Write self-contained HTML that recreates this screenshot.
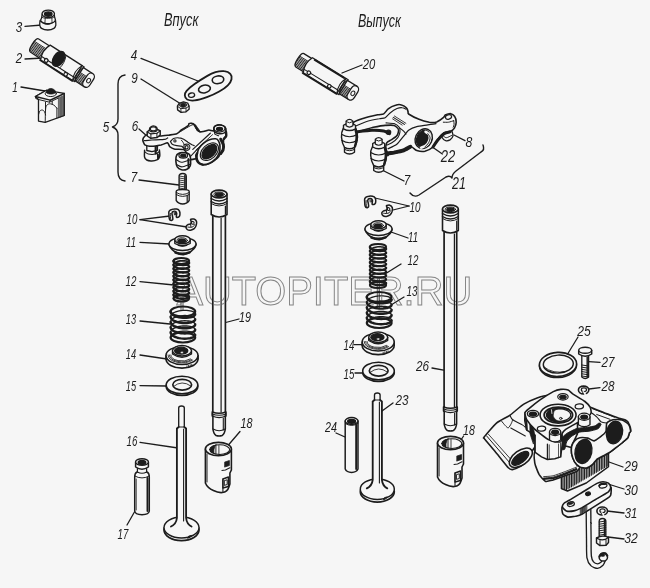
<!DOCTYPE html>
<html><head><meta charset="utf-8"><title>diagram</title>
<style>
html,body{margin:0;padding:0;background:#f6f6f6;}
svg{display:block;will-change:transform;}
text{font-family:"Liberation Sans",sans-serif;font-style:italic;fill:#1c1c1c;stroke:none;}
</style></head><body>
<svg width="650" height="588" viewBox="0 0 650 588">
<defs><filter id="soft" x="0" y="0" width="650" height="588" filterUnits="userSpaceOnUse"><feGaussianBlur stdDeviation="0.45"/></filter></defs>
<rect width="650" height="588" fill="#f6f6f6"/>
<g filter="url(#soft)" fill="none" stroke="#1c1c1c" stroke-width="1.3" stroke-linecap="round" stroke-linejoin="round">
<text x="164" y="25.8" font-size="17.5" textLength="34.5" lengthAdjust="spacingAndGlyphs">Впуск</text>
<text x="358" y="27" font-size="17.5" textLength="43" lengthAdjust="spacingAndGlyphs">Выпуск</text>
<text x="15" y="92.2" font-size="14.5" text-anchor="middle" textLength="5.5" lengthAdjust="spacingAndGlyphs">1</text>
<text x="19" y="63.2" font-size="14.5" text-anchor="middle" textLength="6.5" lengthAdjust="spacingAndGlyphs">2</text>
<text x="19" y="32.2" font-size="14.5" text-anchor="middle" textLength="6.5" lengthAdjust="spacingAndGlyphs">3</text>
<text x="134" y="60.2" font-size="14.5" text-anchor="middle" textLength="6.5" lengthAdjust="spacingAndGlyphs">4</text>
<text x="134.5" y="83.2" font-size="14.5" text-anchor="middle" textLength="6.5" lengthAdjust="spacingAndGlyphs">9</text>
<text x="106" y="132.2" font-size="14.5" text-anchor="middle" textLength="6.5" lengthAdjust="spacingAndGlyphs">5</text>
<text x="135" y="131.2" font-size="14.5" text-anchor="middle" textLength="6.5" lengthAdjust="spacingAndGlyphs">6</text>
<text x="134" y="182.2" font-size="14.5" text-anchor="middle" textLength="6.5" lengthAdjust="spacingAndGlyphs">7</text>
<text x="132" y="224.2" font-size="14.5" text-anchor="middle" textLength="10.8" lengthAdjust="spacingAndGlyphs">10</text>
<text x="131" y="246.8" font-size="14.5" text-anchor="middle" textLength="9.8" lengthAdjust="spacingAndGlyphs">11</text>
<text x="131" y="286.2" font-size="14.5" text-anchor="middle" textLength="10.8" lengthAdjust="spacingAndGlyphs">12</text>
<text x="131" y="324.2" font-size="14.5" text-anchor="middle" textLength="10.3" lengthAdjust="spacingAndGlyphs">13</text>
<text x="131" y="359.2" font-size="14.5" text-anchor="middle" textLength="10.3" lengthAdjust="spacingAndGlyphs">14</text>
<text x="131" y="391.2" font-size="14.5" text-anchor="middle" textLength="10.3" lengthAdjust="spacingAndGlyphs">15</text>
<text x="132" y="446.2" font-size="14.5" text-anchor="middle" textLength="10.8" lengthAdjust="spacingAndGlyphs">16</text>
<text x="123" y="539.2" font-size="14.5" text-anchor="middle" textLength="10.8" lengthAdjust="spacingAndGlyphs">17</text>
<text x="246.5" y="428.2" font-size="14.5" text-anchor="middle" textLength="12" lengthAdjust="spacingAndGlyphs">18</text>
<text x="245" y="321.7" font-size="14.5" text-anchor="middle" textLength="12" lengthAdjust="spacingAndGlyphs">19</text>
<text x="369" y="69.2" font-size="14.5" text-anchor="middle" textLength="12.5" lengthAdjust="spacingAndGlyphs">20</text>
<text x="469" y="147.2" font-size="14.5" text-anchor="middle" textLength="6.8" lengthAdjust="spacingAndGlyphs">8</text>
<text x="448" y="161.8" font-size="16" text-anchor="middle" textLength="14.5" lengthAdjust="spacingAndGlyphs">22</text>
<text x="407" y="185.2" font-size="14.5" text-anchor="middle" textLength="6.5" lengthAdjust="spacingAndGlyphs">7</text>
<text x="459" y="188.8" font-size="16" text-anchor="middle" textLength="13.8" lengthAdjust="spacingAndGlyphs">21</text>
<text x="415" y="212.2" font-size="14.5" text-anchor="middle" textLength="11" lengthAdjust="spacingAndGlyphs">10</text>
<text x="413" y="242.2" font-size="14.5" text-anchor="middle" textLength="10" lengthAdjust="spacingAndGlyphs">11</text>
<text x="413" y="265.2" font-size="14.5" text-anchor="middle" textLength="10.8" lengthAdjust="spacingAndGlyphs">12</text>
<text x="412" y="296.2" font-size="14.5" text-anchor="middle" textLength="11" lengthAdjust="spacingAndGlyphs">13</text>
<text x="349" y="350.2" font-size="14.5" text-anchor="middle" textLength="10.8" lengthAdjust="spacingAndGlyphs">14</text>
<text x="349" y="378.8" font-size="14.5" text-anchor="middle" textLength="10.8" lengthAdjust="spacingAndGlyphs">15</text>
<text x="422.6" y="371.2" font-size="14.5" text-anchor="middle" textLength="13" lengthAdjust="spacingAndGlyphs">26</text>
<text x="402" y="405.2" font-size="14.5" text-anchor="middle" textLength="13" lengthAdjust="spacingAndGlyphs">23</text>
<text x="331" y="431.8" font-size="14.5" text-anchor="middle" textLength="12" lengthAdjust="spacingAndGlyphs">24</text>
<text x="469" y="435.2" font-size="14.5" text-anchor="middle" textLength="11.8" lengthAdjust="spacingAndGlyphs">18</text>
<text x="584" y="336.4" font-size="15" text-anchor="middle" textLength="13.5" lengthAdjust="spacingAndGlyphs">25</text>
<text x="608" y="367.4" font-size="15" text-anchor="middle" textLength="13" lengthAdjust="spacingAndGlyphs">27</text>
<text x="608" y="391.4" font-size="15" text-anchor="middle" textLength="13" lengthAdjust="spacingAndGlyphs">28</text>
<text x="631" y="471.4" font-size="15" text-anchor="middle" textLength="13.5" lengthAdjust="spacingAndGlyphs">29</text>
<text x="631" y="495.0" font-size="15" text-anchor="middle" textLength="13.5" lengthAdjust="spacingAndGlyphs">30</text>
<text x="631" y="518.4" font-size="15" text-anchor="middle" textLength="12.5" lengthAdjust="spacingAndGlyphs">31</text>
<text x="631" y="543.4" font-size="15" text-anchor="middle" textLength="13.5" lengthAdjust="spacingAndGlyphs">32</text>
<line x1="21" y1="87" x2="45" y2="91" stroke-width="1.28" />
<line x1="25" y1="59" x2="43" y2="58" stroke-width="1.28" />
<line x1="25" y1="26.4" x2="42" y2="25" stroke-width="1.28" />
<line x1="141" y1="58.4" x2="198" y2="81" stroke-width="1.28" />
<line x1="141" y1="79" x2="181" y2="104" stroke-width="1.28" />
<line x1="139" y1="129" x2="148" y2="137" stroke-width="1.28" />
<line x1="139" y1="180" x2="179" y2="185" stroke-width="1.28" />
<line x1="140" y1="219.6" x2="170" y2="216" stroke-width="1.28" />
<line x1="140" y1="219.6" x2="187" y2="227" stroke-width="1.28" />
<line x1="140" y1="242.4" x2="170" y2="244" stroke-width="1.28" />
<line x1="140" y1="281.6" x2="174" y2="285" stroke-width="1.28" />
<line x1="140" y1="321" x2="170" y2="324" stroke-width="1.28" />
<line x1="140" y1="355" x2="167" y2="359" stroke-width="1.28" />
<line x1="140" y1="385.6" x2="166" y2="386" stroke-width="1.28" />
<line x1="140" y1="442.4" x2="178" y2="448" stroke-width="1.28" />
<line x1="127" y1="525" x2="135" y2="511" stroke-width="1.28" />
<line x1="240" y1="431.5" x2="225" y2="449" stroke-width="1.28" />
<line x1="239" y1="319" x2="220" y2="324" stroke-width="1.28" />
<line x1="362" y1="65" x2="342" y2="73" stroke-width="1.28" />
<line x1="465" y1="140.6" x2="454" y2="135" stroke-width="1.28" />
<line x1="442.4" y1="154" x2="433" y2="147.4" stroke-width="1.28" />
<line x1="404" y1="181" x2="382" y2="170" stroke-width="1.28" />
<line x1="409" y1="206" x2="375" y2="198" stroke-width="1.28" />
<line x1="409" y1="206" x2="389" y2="211" stroke-width="1.28" />
<line x1="408" y1="238" x2="391" y2="232" stroke-width="1.28" />
<line x1="401" y1="264" x2="385" y2="274" stroke-width="1.28" />
<line x1="404" y1="297" x2="391" y2="305" stroke-width="1.28" />
<line x1="354" y1="344.6" x2="364" y2="344.6" stroke-width="1.28" />
<line x1="355" y1="373" x2="365" y2="373" stroke-width="1.28" />
<line x1="432" y1="368" x2="445" y2="370.4" stroke-width="1.28" />
<line x1="393" y1="403" x2="382" y2="411" stroke-width="1.28" />
<line x1="336" y1="433" x2="345" y2="437" stroke-width="1.28" />
<line x1="463.6" y1="436" x2="459" y2="443" stroke-width="1.28" />
<line x1="578" y1="337" x2="567" y2="355" stroke-width="1.28" />
<line x1="600" y1="362.4" x2="589" y2="361.6" stroke-width="1.28" />
<line x1="600" y1="387.6" x2="589" y2="389" stroke-width="1.28" />
<line x1="623" y1="467" x2="609" y2="462" stroke-width="1.28" />
<line x1="624" y1="489" x2="608" y2="484" stroke-width="1.28" />
<line x1="624" y1="513" x2="607" y2="511" stroke-width="1.28" />
<line x1="624" y1="539" x2="608" y2="537" stroke-width="1.28" />
<path d="M125,75 Q118,76 118,84 L118,119 Q118,125 112.5,127 Q118,129 118,135 L118,172 Q118,180 125,181" fill="none" stroke-width="1.40" />
<path d="M483,145 Q485,150 481,152 L456,171 Q452,174 452,178 Q450,175 446,177 L419,195 Q414,198 410,193" fill="none" stroke-width="1.40" />
<rect x="212.79999999999998" y="215" width="12.6" height="197" fill="#f6f6f6" stroke="none"/>
<line x1="212.79999999999998" y1="216" x2="212.79999999999998" y2="412" stroke-width="1.71" />
<line x1="225.4" y1="216" x2="225.4" y2="412" stroke-width="1.71" />
<line x1="221.1" y1="218" x2="221.1" y2="412" stroke-width="1.22" />
<path d="M211.2,194 L211.2,214.5 Q219.1,219.5 227.0,214.5 L227.0,194 Z" fill="#f6f6f6" stroke-width="1.59" />
<ellipse cx="219.1" cy="194" rx="7.9" ry="3.9" fill="#f6f6f6" stroke-width="1.59" />
<ellipse cx="219.1" cy="194.3" rx="5.2" ry="2.3" fill="none" stroke-width="0.98" />
<ellipse cx="219.1" cy="194.6" rx="3.6" ry="1.6" fill="#1c1c1c" />
<path d="M211.2,198.5 Q219.1,203.5 227.0,198.5" fill="none" stroke-width="1.46" />
<path d="M211.2,201.5 Q219.1,206.5 227.0,201.5" fill="none" stroke-width="1.46" />
<path d="M211.2,203.5 Q219.1,208.5 227.0,203.5" fill="none" stroke-width="0.98" />
<line x1="225.4" y1="206" x2="225.4" y2="214" stroke-width="1.22" />
<path d="M212.29999999999998,412 L212.29999999999998,416 Q219.1,418.5 225.9,416 L225.9,412 Q219.1,414.5 212.29999999999998,412 Z" fill="#f6f6f6" stroke-width="1.71" />
<path d="M212.29999999999998,414 Q219.1,416.5 225.9,414" fill="none" stroke-width="1.22" />
<path d="M212.9,416.3 L212.9,429 Q213.6,434 216.1,435.5 Q219.1,436.5 222.1,435.5 Q224.6,434 225.29999999999998,429 L225.29999999999998,416.3" fill="#f6f6f6" stroke-width="1.59" />
<path d="M212.9,416.3 Q219.1,419 225.29999999999998,416.3" fill="#f6f6f6" stroke-width="1.10" />
<path d="M213.1,429 Q219.1,432.5 225.1,429" fill="none" stroke-width="1.10" />
<line x1="223.29999999999998" y1="418" x2="223.29999999999998" y2="430" stroke-width="1.10" />
<rect x="444.09999999999997" y="231" width="12.6" height="176" fill="#f6f6f6" stroke="none"/>
<line x1="444.09999999999997" y1="232" x2="444.09999999999997" y2="407" stroke-width="1.71" />
<line x1="456.7" y1="232" x2="456.7" y2="407" stroke-width="1.71" />
<line x1="454.4" y1="234" x2="454.4" y2="407" stroke-width="1.22" />
<path d="M442.5,209 L442.5,230.5 Q450.4,235.5 458.29999999999995,230.5 L458.29999999999995,209 Z" fill="#f6f6f6" stroke-width="1.59" />
<ellipse cx="450.4" cy="209" rx="7.9" ry="3.9" fill="#f6f6f6" stroke-width="1.59" />
<ellipse cx="450.4" cy="209.3" rx="5.2" ry="2.3" fill="none" stroke-width="0.98" />
<ellipse cx="450.4" cy="209.6" rx="3.6" ry="1.6" fill="#1c1c1c" />
<path d="M442.5,213.5 Q450.4,218.5 458.29999999999995,213.5" fill="none" stroke-width="1.46" />
<path d="M442.5,216.5 Q450.4,221.5 458.29999999999995,216.5" fill="none" stroke-width="1.46" />
<path d="M442.5,218.5 Q450.4,223.5 458.29999999999995,218.5" fill="none" stroke-width="0.98" />
<line x1="456.69999999999993" y1="221" x2="456.69999999999993" y2="230" stroke-width="1.22" />
<path d="M443.59999999999997,407 L443.59999999999997,411 Q450.4,413.5 457.2,411 L457.2,407 Q450.4,409.5 443.59999999999997,407 Z" fill="#f6f6f6" stroke-width="1.71" />
<path d="M443.59999999999997,409 Q450.4,411.5 457.2,409" fill="none" stroke-width="1.22" />
<path d="M444.2,411.3 L444.2,424 Q444.9,429 447.4,430.5 Q450.4,431.5 453.4,430.5 Q455.9,429 456.59999999999997,424 L456.59999999999997,411.3" fill="#f6f6f6" stroke-width="1.59" />
<path d="M444.2,411.3 Q450.4,414 456.59999999999997,411.3" fill="#f6f6f6" stroke-width="1.10" />
<path d="M444.4,424 Q450.4,427.5 456.4,424" fill="none" stroke-width="1.10" />
<line x1="454.59999999999997" y1="413" x2="454.59999999999997" y2="425" stroke-width="1.10" />
<ellipse cx="181.3" cy="261.0" rx="7.8" ry="3.0" fill="none" stroke-width="2.20" />
<path d="M189.1,262.9 L189.0,262.5 L188.7,262.1 L188.2,261.8 L187.6,261.5 L186.8,261.2 L185.9,261.0 L184.8,260.9 L183.7,260.8 L182.5,260.8 L181.3,260.8 L180.1,260.9 L178.9,261.1 L177.8,261.4 L176.7,261.8 L175.8,262.2 L175.0,262.6 L174.4,263.1 L173.9,263.6 L173.6,264.2 L173.5,264.8" fill="none" stroke-width="1.71" />
<path d="M173.5,261.0 L173.6,261.6 L173.9,262.1 L174.4,262.6 L175.0,263.1 L175.8,263.6 L176.7,264.0 L177.8,264.3 L178.9,264.6 L180.1,264.8 L181.3,264.9 L182.5,265.0 L183.7,265.0 L184.8,264.9 L185.9,264.7 L186.8,264.5 L187.6,264.3 L188.2,264.0 L188.7,263.6 L189.0,263.3 L189.1,262.9" fill="none" stroke-width="2.44" />
<path d="M189.1,266.6 L189.0,266.2 L188.7,265.9 L188.2,265.5 L187.6,265.2 L186.8,265.0 L185.9,264.8 L184.8,264.6 L183.7,264.5 L182.5,264.5 L181.3,264.6 L180.1,264.7 L178.9,264.9 L177.8,265.2 L176.7,265.5 L175.8,265.9 L175.0,266.4 L174.4,266.9 L173.9,267.4 L173.6,267.9 L173.5,268.5" fill="none" stroke-width="1.71" />
<path d="M173.5,264.8 L173.6,265.3 L173.9,265.9 L174.4,266.4 L175.0,266.9 L175.8,267.3 L176.7,267.7 L177.8,268.1 L178.9,268.4 L180.1,268.6 L181.3,268.7 L182.5,268.7 L183.7,268.7 L184.8,268.6 L185.9,268.5 L186.8,268.3 L187.6,268.0 L188.2,267.7 L188.7,267.4 L189.0,267.0 L189.1,266.6" fill="none" stroke-width="2.44" />
<path d="M189.1,270.4 L189.0,270.0 L188.7,269.6 L188.2,269.3 L187.6,269.0 L186.8,268.7 L185.9,268.5 L184.8,268.4 L183.7,268.3 L182.5,268.3 L181.3,268.3 L180.1,268.4 L178.9,268.6 L177.8,268.9 L176.7,269.3 L175.8,269.7 L175.0,270.1 L174.4,270.6 L173.9,271.1 L173.6,271.7 L173.5,272.2" fill="none" stroke-width="1.71" />
<path d="M173.5,268.5 L173.6,269.1 L173.9,269.6 L174.4,270.1 L175.0,270.6 L175.8,271.1 L176.7,271.5 L177.8,271.8 L178.9,272.1 L180.1,272.3 L181.3,272.4 L182.5,272.5 L183.7,272.5 L184.8,272.4 L185.9,272.2 L186.8,272.0 L187.6,271.8 L188.2,271.5 L188.7,271.1 L189.0,270.8 L189.1,270.4" fill="none" stroke-width="2.44" />
<path d="M189.1,274.1 L189.0,273.7 L188.7,273.4 L188.2,273.0 L187.6,272.7 L186.8,272.5 L185.9,272.3 L184.8,272.1 L183.7,272.0 L182.5,272.0 L181.3,272.1 L180.1,272.2 L178.9,272.4 L177.8,272.7 L176.7,273.0 L175.8,273.4 L175.0,273.9 L174.4,274.4 L173.9,274.9 L173.6,275.4 L173.5,276.0" fill="none" stroke-width="1.71" />
<path d="M173.5,272.2 L173.6,272.8 L173.9,273.4 L174.4,273.9 L175.0,274.4 L175.8,274.8 L176.7,275.2 L177.8,275.6 L178.9,275.9 L180.1,276.1 L181.3,276.2 L182.5,276.2 L183.7,276.2 L184.8,276.1 L185.9,276.0 L186.8,275.8 L187.6,275.5 L188.2,275.2 L188.7,274.9 L189.0,274.5 L189.1,274.1" fill="none" stroke-width="2.44" />
<path d="M189.1,277.9 L189.0,277.5 L188.7,277.1 L188.2,276.8 L187.6,276.5 L186.8,276.2 L185.9,276.0 L184.8,275.9 L183.7,275.8 L182.5,275.8 L181.3,275.8 L180.1,275.9 L178.9,276.1 L177.8,276.4 L176.7,276.8 L175.8,277.2 L175.0,277.6 L174.4,278.1 L173.9,278.6 L173.6,279.2 L173.5,279.8" fill="none" stroke-width="1.71" />
<path d="M173.5,276.0 L173.6,276.6 L173.9,277.1 L174.4,277.6 L175.0,278.1 L175.8,278.6 L176.7,279.0 L177.8,279.3 L178.9,279.6 L180.1,279.8 L181.3,279.9 L182.5,280.0 L183.7,280.0 L184.8,279.9 L185.9,279.7 L186.8,279.5 L187.6,279.3 L188.2,279.0 L188.7,278.6 L189.0,278.3 L189.1,277.9" fill="none" stroke-width="2.44" />
<path d="M189.1,281.6 L189.0,281.2 L188.7,280.9 L188.2,280.5 L187.6,280.2 L186.8,280.0 L185.9,279.8 L184.8,279.6 L183.7,279.5 L182.5,279.5 L181.3,279.6 L180.1,279.7 L178.9,279.9 L177.8,280.2 L176.7,280.5 L175.8,280.9 L175.0,281.4 L174.4,281.9 L173.9,282.4 L173.6,282.9 L173.5,283.5" fill="none" stroke-width="1.71" />
<path d="M173.5,279.8 L173.6,280.3 L173.9,280.9 L174.4,281.4 L175.0,281.9 L175.8,282.3 L176.7,282.7 L177.8,283.1 L178.9,283.4 L180.1,283.6 L181.3,283.7 L182.5,283.7 L183.7,283.7 L184.8,283.6 L185.9,283.5 L186.8,283.3 L187.6,283.0 L188.2,282.7 L188.7,282.4 L189.0,282.0 L189.1,281.6" fill="none" stroke-width="2.44" />
<path d="M189.1,285.4 L189.0,285.0 L188.7,284.6 L188.2,284.3 L187.6,284.0 L186.8,283.7 L185.9,283.5 L184.8,283.4 L183.7,283.3 L182.5,283.3 L181.3,283.3 L180.1,283.4 L178.9,283.6 L177.8,283.9 L176.7,284.3 L175.8,284.7 L175.0,285.1 L174.4,285.6 L173.9,286.1 L173.6,286.7 L173.5,287.2" fill="none" stroke-width="1.71" />
<path d="M173.5,283.5 L173.6,284.1 L173.9,284.6 L174.4,285.1 L175.0,285.6 L175.8,286.1 L176.7,286.5 L177.8,286.8 L178.9,287.1 L180.1,287.3 L181.3,287.4 L182.5,287.5 L183.7,287.5 L184.8,287.4 L185.9,287.2 L186.8,287.0 L187.6,286.8 L188.2,286.5 L188.7,286.1 L189.0,285.8 L189.1,285.4" fill="none" stroke-width="2.44" />
<path d="M189.1,289.1 L189.0,288.7 L188.7,288.4 L188.2,288.0 L187.6,287.7 L186.8,287.5 L185.9,287.3 L184.8,287.1 L183.7,287.0 L182.5,287.0 L181.3,287.1 L180.1,287.2 L178.9,287.4 L177.8,287.7 L176.7,288.0 L175.8,288.4 L175.0,288.9 L174.4,289.4 L173.9,289.9 L173.6,290.4 L173.5,291.0" fill="none" stroke-width="1.71" />
<path d="M173.5,287.2 L173.6,287.8 L173.9,288.4 L174.4,288.9 L175.0,289.4 L175.8,289.8 L176.7,290.2 L177.8,290.6 L178.9,290.9 L180.1,291.1 L181.3,291.2 L182.5,291.2 L183.7,291.2 L184.8,291.1 L185.9,291.0 L186.8,290.8 L187.6,290.5 L188.2,290.2 L188.7,289.9 L189.0,289.5 L189.1,289.1" fill="none" stroke-width="2.44" />
<path d="M189.1,292.9 L189.0,292.5 L188.7,292.1 L188.2,291.8 L187.6,291.5 L186.8,291.2 L185.9,291.0 L184.8,290.9 L183.7,290.8 L182.5,290.8 L181.3,290.8 L180.1,290.9 L178.9,291.1 L177.8,291.4 L176.7,291.8 L175.8,292.2 L175.0,292.6 L174.4,293.1 L173.9,293.6 L173.6,294.2 L173.5,294.8" fill="none" stroke-width="1.71" />
<path d="M173.5,291.0 L173.6,291.6 L173.9,292.1 L174.4,292.6 L175.0,293.1 L175.8,293.6 L176.7,294.0 L177.8,294.3 L178.9,294.6 L180.1,294.8 L181.3,294.9 L182.5,295.0 L183.7,295.0 L184.8,294.9 L185.9,294.7 L186.8,294.5 L187.6,294.3 L188.2,294.0 L188.7,293.6 L189.0,293.3 L189.1,292.9" fill="none" stroke-width="2.44" />
<path d="M189.1,296.6 L189.0,296.2 L188.7,295.9 L188.2,295.5 L187.6,295.2 L186.8,295.0 L185.9,294.8 L184.8,294.6 L183.7,294.5 L182.5,294.5 L181.3,294.6 L180.1,294.7 L178.9,294.9 L177.8,295.2 L176.7,295.5 L175.8,295.9 L175.0,296.4 L174.4,296.9 L173.9,297.4 L173.6,297.9 L173.5,298.5" fill="none" stroke-width="1.71" />
<path d="M173.5,294.8 L173.6,295.3 L173.9,295.9 L174.4,296.4 L175.0,296.9 L175.8,297.3 L176.7,297.7 L177.8,298.1 L178.9,298.4 L180.1,298.6 L181.3,298.7 L182.5,298.7 L183.7,298.7 L184.8,298.6 L185.9,298.5 L186.8,298.3 L187.6,298.0 L188.2,297.7 L188.7,297.4 L189.0,297.0 L189.1,296.6" fill="none" stroke-width="2.44" />
<ellipse cx="181.3" cy="298.5" rx="7.8" ry="3.0" fill="none" stroke-width="2.20" />
<ellipse cx="182.9" cy="311.5" rx="12.3" ry="5" fill="none" stroke-width="2.20" />
<path d="M195.2,314.1 L195.0,313.4 L194.6,312.8 L193.9,312.2 L192.9,311.7 L191.6,311.2 L190.1,310.8 L188.5,310.6 L186.7,310.4 L184.8,310.3 L182.9,310.4 L181.0,310.6 L179.1,310.9 L177.3,311.3 L175.7,311.9 L174.2,312.5 L172.9,313.2 L171.9,314.0 L171.2,314.9 L170.8,315.8 L170.6,316.7" fill="none" stroke-width="1.34" />
<path d="M170.6,311.5 L170.8,312.4 L171.2,313.3 L171.9,314.2 L172.9,315.0 L174.2,315.7 L175.7,316.3 L177.3,316.9 L179.1,317.3 L181.0,317.6 L182.9,317.8 L184.8,317.9 L186.7,317.8 L188.5,317.6 L190.1,317.4 L191.6,317.0 L192.9,316.5 L193.9,316.0 L194.6,315.4 L195.0,314.8 L195.2,314.1" fill="none" stroke-width="2.44" />
<path d="M195.2,319.3 L195.0,318.6 L194.6,318.0 L193.9,317.4 L192.9,316.9 L191.6,316.4 L190.1,316.0 L188.5,315.8 L186.7,315.6 L184.8,315.5 L182.9,315.6 L181.0,315.8 L179.1,316.1 L177.3,316.5 L175.7,317.1 L174.2,317.7 L172.9,318.4 L171.9,319.2 L171.2,320.1 L170.8,321.0 L170.6,321.9" fill="none" stroke-width="1.34" />
<path d="M170.6,316.7 L170.8,317.6 L171.2,318.5 L171.9,319.4 L172.9,320.2 L174.2,320.9 L175.7,321.5 L177.3,322.1 L179.1,322.5 L181.0,322.8 L182.9,323.0 L184.8,323.1 L186.7,323.0 L188.5,322.8 L190.1,322.6 L191.6,322.2 L192.9,321.7 L193.9,321.2 L194.6,320.6 L195.0,320.0 L195.2,319.3" fill="none" stroke-width="2.44" />
<path d="M195.2,324.5 L195.0,323.8 L194.6,323.2 L193.9,322.6 L192.9,322.1 L191.6,321.6 L190.1,321.2 L188.5,321.0 L186.7,320.8 L184.8,320.7 L182.9,320.8 L181.0,321.0 L179.1,321.3 L177.3,321.7 L175.7,322.3 L174.2,322.9 L172.9,323.6 L171.9,324.4 L171.2,325.3 L170.8,326.2 L170.6,327.1" fill="none" stroke-width="1.34" />
<path d="M170.6,321.9 L170.8,322.8 L171.2,323.7 L171.9,324.6 L172.9,325.4 L174.2,326.1 L175.7,326.7 L177.3,327.3 L179.1,327.7 L181.0,328.0 L182.9,328.2 L184.8,328.3 L186.7,328.2 L188.5,328.0 L190.1,327.8 L191.6,327.4 L192.9,326.9 L193.9,326.4 L194.6,325.8 L195.0,325.2 L195.2,324.5" fill="none" stroke-width="2.44" />
<path d="M195.2,329.7 L195.0,329.0 L194.6,328.4 L193.9,327.8 L192.9,327.3 L191.6,326.8 L190.1,326.4 L188.5,326.2 L186.7,326.0 L184.8,325.9 L182.9,326.0 L181.0,326.2 L179.1,326.5 L177.3,326.9 L175.7,327.5 L174.2,328.1 L172.9,328.8 L171.9,329.6 L171.2,330.5 L170.8,331.4 L170.6,332.3" fill="none" stroke-width="1.34" />
<path d="M170.6,327.1 L170.8,328.0 L171.2,328.9 L171.9,329.8 L172.9,330.6 L174.2,331.3 L175.7,331.9 L177.3,332.5 L179.1,332.9 L181.0,333.2 L182.9,333.4 L184.8,333.5 L186.7,333.4 L188.5,333.2 L190.1,333.0 L191.6,332.6 L192.9,332.1 L193.9,331.6 L194.6,331.0 L195.0,330.4 L195.2,329.7" fill="none" stroke-width="2.44" />
<path d="M195.2,334.9 L195.0,334.2 L194.6,333.6 L193.9,333.0 L192.9,332.5 L191.6,332.0 L190.1,331.6 L188.5,331.4 L186.7,331.2 L184.8,331.1 L182.9,331.2 L181.0,331.4 L179.1,331.7 L177.3,332.1 L175.7,332.7 L174.2,333.3 L172.9,334.0 L171.9,334.8 L171.2,335.7 L170.8,336.6 L170.6,337.5" fill="none" stroke-width="1.34" />
<path d="M170.6,332.3 L170.8,333.2 L171.2,334.1 L171.9,335.0 L172.9,335.8 L174.2,336.5 L175.7,337.1 L177.3,337.7 L179.1,338.1 L181.0,338.4 L182.9,338.6 L184.8,338.7 L186.7,338.6 L188.5,338.4 L190.1,338.2 L191.6,337.8 L192.9,337.3 L193.9,336.8 L194.6,336.2 L195.0,335.6 L195.2,334.9" fill="none" stroke-width="2.44" />
<ellipse cx="182.9" cy="337.5" rx="12.3" ry="5" fill="none" stroke-width="2.20" />
<ellipse cx="378" cy="247.0" rx="8.1" ry="3.0" fill="none" stroke-width="2.09" />
<path d="M386.1,248.9 L386.0,248.5 L385.7,248.2 L385.2,247.8 L384.6,247.5 L383.7,247.3 L382.8,247.0 L381.7,246.9 L380.5,246.8 L379.3,246.8 L378.0,246.8 L376.7,247.0 L375.5,247.2 L374.3,247.5 L373.2,247.8 L372.3,248.2 L371.4,248.7 L370.8,249.2 L370.3,249.7 L370.0,250.2 L369.9,250.8" fill="none" stroke-width="1.46" />
<path d="M369.9,247.0 L370.0,247.6 L370.3,248.1 L370.8,248.6 L371.4,249.1 L372.3,249.6 L373.2,250.0 L374.3,250.3 L375.5,250.6 L376.7,250.8 L378.0,250.9 L379.3,251.0 L380.5,251.0 L381.7,250.9 L382.8,250.8 L383.7,250.5 L384.6,250.3 L385.2,250.0 L385.7,249.6 L386.0,249.3 L386.1,248.9" fill="none" stroke-width="2.32" />
<path d="M386.1,252.7 L386.0,252.3 L385.7,252.0 L385.2,251.6 L384.6,251.3 L383.7,251.1 L382.8,250.8 L381.7,250.7 L380.5,250.6 L379.3,250.6 L378.0,250.7 L376.7,250.8 L375.5,251.0 L374.3,251.3 L373.2,251.6 L372.3,252.0 L371.4,252.5 L370.8,253.0 L370.3,253.5 L370.0,254.0 L369.9,254.6" fill="none" stroke-width="1.46" />
<path d="M369.9,250.8 L370.0,251.4 L370.3,251.9 L370.8,252.4 L371.4,252.9 L372.3,253.4 L373.2,253.8 L374.3,254.1 L375.5,254.4 L376.7,254.6 L378.0,254.8 L379.3,254.8 L380.5,254.8 L381.7,254.7 L382.8,254.6 L383.7,254.3 L384.6,254.1 L385.2,253.8 L385.7,253.4 L386.0,253.1 L386.1,252.7" fill="none" stroke-width="2.32" />
<path d="M386.1,256.5 L386.0,256.1 L385.7,255.8 L385.2,255.4 L384.6,255.1 L383.7,254.9 L382.8,254.6 L381.7,254.5 L380.5,254.4 L379.3,254.4 L378.0,254.4 L376.7,254.6 L375.5,254.8 L374.3,255.1 L373.2,255.4 L372.3,255.8 L371.4,256.3 L370.8,256.8 L370.3,257.3 L370.0,257.8 L369.9,258.4" fill="none" stroke-width="1.46" />
<path d="M369.9,254.6 L370.0,255.2 L370.3,255.7 L370.8,256.2 L371.4,256.7 L372.3,257.2 L373.2,257.6 L374.3,257.9 L375.5,258.2 L376.7,258.4 L378.0,258.6 L379.3,258.6 L380.5,258.6 L381.7,258.5 L382.8,258.4 L383.7,258.1 L384.6,257.9 L385.2,257.6 L385.7,257.2 L386.0,256.9 L386.1,256.5" fill="none" stroke-width="2.32" />
<path d="M386.1,260.3 L386.0,259.9 L385.7,259.6 L385.2,259.2 L384.6,258.9 L383.7,258.7 L382.8,258.4 L381.7,258.3 L380.5,258.2 L379.3,258.2 L378.0,258.2 L376.7,258.4 L375.5,258.6 L374.3,258.9 L373.2,259.2 L372.3,259.6 L371.4,260.1 L370.8,260.6 L370.3,261.1 L370.0,261.6 L369.9,262.2" fill="none" stroke-width="1.46" />
<path d="M369.9,258.4 L370.0,259.0 L370.3,259.5 L370.8,260.0 L371.4,260.5 L372.3,261.0 L373.2,261.4 L374.3,261.7 L375.5,262.0 L376.7,262.2 L378.0,262.4 L379.3,262.4 L380.5,262.4 L381.7,262.3 L382.8,262.2 L383.7,261.9 L384.6,261.7 L385.2,261.4 L385.7,261.0 L386.0,260.7 L386.1,260.3" fill="none" stroke-width="2.32" />
<path d="M386.1,264.1 L386.0,263.7 L385.7,263.4 L385.2,263.0 L384.6,262.7 L383.7,262.5 L382.8,262.2 L381.7,262.1 L380.5,262.0 L379.3,262.0 L378.0,262.1 L376.7,262.2 L375.5,262.4 L374.3,262.7 L373.2,263.0 L372.3,263.4 L371.4,263.9 L370.8,264.4 L370.3,264.9 L370.0,265.4 L369.9,266.0" fill="none" stroke-width="1.46" />
<path d="M369.9,262.2 L370.0,262.8 L370.3,263.3 L370.8,263.8 L371.4,264.3 L372.3,264.8 L373.2,265.2 L374.3,265.5 L375.5,265.8 L376.7,266.0 L378.0,266.1 L379.3,266.2 L380.5,266.2 L381.7,266.1 L382.8,266.0 L383.7,265.7 L384.6,265.5 L385.2,265.2 L385.7,264.8 L386.0,264.5 L386.1,264.1" fill="none" stroke-width="2.32" />
<path d="M386.1,267.9 L386.0,267.5 L385.7,267.2 L385.2,266.8 L384.6,266.5 L383.7,266.3 L382.8,266.0 L381.7,265.9 L380.5,265.8 L379.3,265.8 L378.0,265.9 L376.7,266.0 L375.5,266.2 L374.3,266.5 L373.2,266.8 L372.3,267.2 L371.4,267.7 L370.8,268.2 L370.3,268.7 L370.0,269.2 L369.9,269.8" fill="none" stroke-width="1.46" />
<path d="M369.9,266.0 L370.0,266.6 L370.3,267.1 L370.8,267.6 L371.4,268.1 L372.3,268.6 L373.2,269.0 L374.3,269.3 L375.5,269.6 L376.7,269.8 L378.0,269.9 L379.3,270.0 L380.5,270.0 L381.7,269.9 L382.8,269.8 L383.7,269.5 L384.6,269.3 L385.2,269.0 L385.7,268.6 L386.0,268.3 L386.1,267.9" fill="none" stroke-width="2.32" />
<path d="M386.1,271.7 L386.0,271.3 L385.7,271.0 L385.2,270.6 L384.6,270.3 L383.7,270.1 L382.8,269.8 L381.7,269.7 L380.5,269.6 L379.3,269.6 L378.0,269.6 L376.7,269.8 L375.5,270.0 L374.3,270.3 L373.2,270.6 L372.3,271.0 L371.4,271.5 L370.8,272.0 L370.3,272.5 L370.0,273.0 L369.9,273.6" fill="none" stroke-width="1.46" />
<path d="M369.9,269.8 L370.0,270.4 L370.3,270.9 L370.8,271.4 L371.4,271.9 L372.3,272.4 L373.2,272.8 L374.3,273.1 L375.5,273.4 L376.7,273.6 L378.0,273.8 L379.3,273.8 L380.5,273.8 L381.7,273.7 L382.8,273.6 L383.7,273.3 L384.6,273.1 L385.2,272.8 L385.7,272.4 L386.0,272.1 L386.1,271.7" fill="none" stroke-width="2.32" />
<path d="M386.1,275.5 L386.0,275.1 L385.7,274.8 L385.2,274.4 L384.6,274.1 L383.7,273.9 L382.8,273.6 L381.7,273.5 L380.5,273.4 L379.3,273.4 L378.0,273.4 L376.7,273.6 L375.5,273.8 L374.3,274.1 L373.2,274.4 L372.3,274.8 L371.4,275.3 L370.8,275.8 L370.3,276.3 L370.0,276.8 L369.9,277.4" fill="none" stroke-width="1.46" />
<path d="M369.9,273.6 L370.0,274.2 L370.3,274.7 L370.8,275.2 L371.4,275.7 L372.3,276.2 L373.2,276.6 L374.3,276.9 L375.5,277.2 L376.7,277.4 L378.0,277.6 L379.3,277.6 L380.5,277.6 L381.7,277.5 L382.8,277.4 L383.7,277.1 L384.6,276.9 L385.2,276.6 L385.7,276.2 L386.0,275.9 L386.1,275.5" fill="none" stroke-width="2.32" />
<path d="M386.1,279.3 L386.0,278.9 L385.7,278.6 L385.2,278.2 L384.6,277.9 L383.7,277.7 L382.8,277.4 L381.7,277.3 L380.5,277.2 L379.3,277.2 L378.0,277.2 L376.7,277.4 L375.5,277.6 L374.3,277.9 L373.2,278.2 L372.3,278.6 L371.4,279.1 L370.8,279.6 L370.3,280.1 L370.0,280.6 L369.9,281.2" fill="none" stroke-width="1.46" />
<path d="M369.9,277.4 L370.0,278.0 L370.3,278.5 L370.8,279.0 L371.4,279.5 L372.3,280.0 L373.2,280.4 L374.3,280.7 L375.5,281.0 L376.7,281.2 L378.0,281.4 L379.3,281.4 L380.5,281.4 L381.7,281.3 L382.8,281.2 L383.7,280.9 L384.6,280.7 L385.2,280.4 L385.7,280.0 L386.0,279.7 L386.1,279.3" fill="none" stroke-width="2.32" />
<path d="M386.1,283.1 L386.0,282.7 L385.7,282.4 L385.2,282.0 L384.6,281.7 L383.7,281.5 L382.8,281.2 L381.7,281.1 L380.5,281.0 L379.3,281.0 L378.0,281.1 L376.7,281.2 L375.5,281.4 L374.3,281.7 L373.2,282.0 L372.3,282.4 L371.4,282.9 L370.8,283.4 L370.3,283.9 L370.0,284.4 L369.9,285.0" fill="none" stroke-width="1.46" />
<path d="M369.9,281.2 L370.0,281.8 L370.3,282.3 L370.8,282.8 L371.4,283.3 L372.3,283.8 L373.2,284.2 L374.3,284.5 L375.5,284.8 L376.7,285.0 L378.0,285.1 L379.3,285.2 L380.5,285.2 L381.7,285.1 L382.8,285.0 L383.7,284.7 L384.6,284.5 L385.2,284.2 L385.7,283.8 L386.0,283.5 L386.1,283.1" fill="none" stroke-width="2.32" />
<ellipse cx="378" cy="285.0" rx="8.1" ry="3.0" fill="none" stroke-width="2.09" />
<line x1="377.3" y1="279" x2="377.3" y2="308" stroke-width="0.73" />
<line x1="379.4" y1="279" x2="379.4" y2="308" stroke-width="0.73" />
<line x1="181.0" y1="297" x2="181.0" y2="310" stroke-width="0.73" />
<line x1="183.0" y1="297" x2="183.0" y2="310" stroke-width="0.73" />
<ellipse cx="379.2" cy="297" rx="12.4" ry="5" fill="none" stroke-width="2.20" />
<path d="M391.6,299.6 L391.4,298.9 L391.0,298.3 L390.2,297.7 L389.2,297.2 L388.0,296.7 L386.5,296.3 L384.8,296.1 L383.0,295.9 L381.1,295.8 L379.2,295.9 L377.3,296.1 L375.4,296.4 L373.6,296.8 L371.9,297.4 L370.4,298.0 L369.2,298.7 L368.2,299.5 L367.4,300.4 L367.0,301.3 L366.8,302.2" fill="none" stroke-width="1.34" />
<path d="M366.8,297.0 L367.0,297.9 L367.4,298.8 L368.2,299.7 L369.2,300.5 L370.4,301.2 L371.9,301.8 L373.6,302.4 L375.4,302.8 L377.3,303.1 L379.2,303.3 L381.1,303.4 L383.0,303.3 L384.8,303.1 L386.5,302.9 L388.0,302.5 L389.2,302.0 L390.2,301.5 L391.0,300.9 L391.4,300.3 L391.6,299.6" fill="none" stroke-width="2.44" />
<path d="M391.6,304.8 L391.4,304.1 L391.0,303.5 L390.2,302.9 L389.2,302.4 L388.0,301.9 L386.5,301.5 L384.8,301.3 L383.0,301.1 L381.1,301.0 L379.2,301.1 L377.3,301.3 L375.4,301.6 L373.6,302.0 L371.9,302.6 L370.4,303.2 L369.2,303.9 L368.2,304.7 L367.4,305.6 L367.0,306.5 L366.8,307.4" fill="none" stroke-width="1.34" />
<path d="M366.8,302.2 L367.0,303.1 L367.4,304.0 L368.2,304.9 L369.2,305.7 L370.4,306.4 L371.9,307.0 L373.6,307.6 L375.4,308.0 L377.3,308.3 L379.2,308.5 L381.1,308.6 L383.0,308.5 L384.8,308.3 L386.5,308.1 L388.0,307.7 L389.2,307.2 L390.2,306.7 L391.0,306.1 L391.4,305.5 L391.6,304.8" fill="none" stroke-width="2.44" />
<path d="M391.6,310.0 L391.4,309.3 L391.0,308.7 L390.2,308.1 L389.2,307.6 L388.0,307.1 L386.5,306.7 L384.8,306.5 L383.0,306.3 L381.1,306.2 L379.2,306.3 L377.3,306.5 L375.4,306.8 L373.6,307.2 L371.9,307.8 L370.4,308.4 L369.2,309.1 L368.2,309.9 L367.4,310.8 L367.0,311.7 L366.8,312.6" fill="none" stroke-width="1.34" />
<path d="M366.8,307.4 L367.0,308.3 L367.4,309.2 L368.2,310.1 L369.2,310.9 L370.4,311.6 L371.9,312.2 L373.6,312.8 L375.4,313.2 L377.3,313.5 L379.2,313.7 L381.1,313.8 L383.0,313.7 L384.8,313.5 L386.5,313.3 L388.0,312.9 L389.2,312.4 L390.2,311.9 L391.0,311.3 L391.4,310.7 L391.6,310.0" fill="none" stroke-width="2.44" />
<path d="M391.6,315.2 L391.4,314.5 L391.0,313.9 L390.2,313.3 L389.2,312.8 L388.0,312.3 L386.5,311.9 L384.8,311.7 L383.0,311.5 L381.1,311.4 L379.2,311.5 L377.3,311.7 L375.4,312.0 L373.6,312.4 L371.9,313.0 L370.4,313.6 L369.2,314.3 L368.2,315.1 L367.4,316.0 L367.0,316.9 L366.8,317.8" fill="none" stroke-width="1.34" />
<path d="M366.8,312.6 L367.0,313.5 L367.4,314.4 L368.2,315.3 L369.2,316.1 L370.4,316.8 L371.9,317.4 L373.6,318.0 L375.4,318.4 L377.3,318.7 L379.2,318.9 L381.1,319.0 L383.0,318.9 L384.8,318.7 L386.5,318.5 L388.0,318.1 L389.2,317.6 L390.2,317.1 L391.0,316.5 L391.4,315.9 L391.6,315.2" fill="none" stroke-width="2.44" />
<path d="M391.6,320.4 L391.4,319.7 L391.0,319.1 L390.2,318.5 L389.2,318.0 L388.0,317.5 L386.5,317.1 L384.8,316.9 L383.0,316.7 L381.1,316.6 L379.2,316.7 L377.3,316.9 L375.4,317.2 L373.6,317.6 L371.9,318.2 L370.4,318.8 L369.2,319.5 L368.2,320.3 L367.4,321.2 L367.0,322.1 L366.8,323.0" fill="none" stroke-width="1.34" />
<path d="M366.8,317.8 L367.0,318.7 L367.4,319.6 L368.2,320.5 L369.2,321.3 L370.4,322.0 L371.9,322.6 L373.6,323.2 L375.4,323.6 L377.3,323.9 L379.2,324.1 L381.1,324.2 L383.0,324.1 L384.8,323.9 L386.5,323.7 L388.0,323.3 L389.2,322.8 L390.2,322.3 L391.0,321.7 L391.4,321.1 L391.6,320.4" fill="none" stroke-width="2.44" />
<ellipse cx="379.2" cy="323" rx="12.4" ry="5" fill="none" stroke-width="2.20" />
<path d="M169.0,244 Q169.5,248 174.5,251.5 Q179.5,254.8 183.5,254.6 Q188.5,254 192.0,250.5 Q195.8,247.5 196.0,244" fill="#f6f6f6" stroke-width="1.59" />
<path d="M175.5,252.6 Q182.5,255 189.5,252.4" fill="none" stroke-width="2.44" />
<ellipse cx="182.5" cy="244" rx="13.5" ry="6.5" fill="#f6f6f6" stroke-width="1.46" />
<path d="M174.8,239.8 L174.8,243.5 Q182.5,248 190.2,243.5 L190.2,239.8" fill="#f6f6f6" stroke-width="1.34" />
<ellipse cx="182.5" cy="239.8" rx="7.7" ry="4.0" fill="#f6f6f6" stroke-width="1.46" />
<ellipse cx="182.2" cy="240.4" rx="5.2" ry="2.6" fill="none" stroke-width="0.98" />
<ellipse cx="182.0" cy="240.8" rx="3.6" ry="1.7" fill="#1c1c1c" />
<path d="M178.5,245.2 Q182.5,246.6 186.5,245.2" fill="none" stroke-width="1.46" />
<path d="M365.0,229 Q365.5,233 370.5,236.5 Q375.5,239.8 379.5,239.6 Q384.5,239 388.0,235.5 Q391.8,232.5 392.0,229" fill="#f6f6f6" stroke-width="1.59" />
<path d="M371.5,237.6 Q378.5,240 385.5,237.4" fill="none" stroke-width="2.44" />
<ellipse cx="378.5" cy="229" rx="13.5" ry="6.5" fill="#f6f6f6" stroke-width="1.46" />
<path d="M370.8,224.8 L370.8,228.5 Q378.5,233 386.2,228.5 L386.2,224.8" fill="#f6f6f6" stroke-width="1.34" />
<ellipse cx="378.5" cy="224.8" rx="7.7" ry="4.0" fill="#f6f6f6" stroke-width="1.46" />
<ellipse cx="378.2" cy="225.4" rx="5.2" ry="2.6" fill="none" stroke-width="0.98" />
<ellipse cx="378.0" cy="225.8" rx="3.6" ry="1.7" fill="#1c1c1c" />
<path d="M374.5,230.2 Q378.5,231.6 382.5,230.2" fill="none" stroke-width="1.46" />
<ellipse cx="182" cy="359.1" rx="16" ry="9" fill="#f6f6f6" stroke-width="1.59" />
<path d="M166,355.5 L166,359.1 M198,355.5 L198,359.1" fill="none" stroke-width="1.46" />
<ellipse cx="182" cy="355.5" rx="16" ry="9" fill="#f6f6f6" stroke-width="1.59" />
<path d="M168,355.0 A14,7.8 0 0 0 192.5,360.148" fill="none" stroke-width="0.85" />
<path d="M169.4,355.0 A12.6,6.9 0 0 0 191.45,359.554" fill="none" stroke-width="0.85" />
<path d="M170.8,355.0 A11.2,6.0 0 0 0 190.4,358.96" fill="none" stroke-width="0.85" />
<path d="M172.5,351.0 L172.5,354.0 Q182,360.5 191.5,354.0 L191.5,351.0" fill="#f6f6f6" stroke-width="1.34" />
<ellipse cx="182" cy="350.7" rx="9.5" ry="5.2" fill="#f6f6f6" stroke-width="1.46" />
<ellipse cx="181.2" cy="350.7" rx="6.6" ry="3.5" fill="#1c1c1c" />
<ellipse cx="182" cy="352.6" rx="1.6" ry="1.0" fill="#f6f6f6" stroke-width="0.37" />
<line x1="187.0" y1="365.8" x2="187.0" y2="367.5" stroke-width="0.85" />
<line x1="188.6" y1="365.3" x2="188.6" y2="367.0" stroke-width="0.85" />
<line x1="190.2" y1="364.8" x2="190.2" y2="366.5" stroke-width="0.85" />
<line x1="191.8" y1="364.3" x2="191.8" y2="366.0" stroke-width="0.85" />
<ellipse cx="378.2" cy="345.6" rx="16" ry="9" fill="#f6f6f6" stroke-width="1.59" />
<path d="M362.2,342 L362.2,345.6 M394.2,342 L394.2,345.6" fill="none" stroke-width="1.46" />
<ellipse cx="378.2" cy="342" rx="16" ry="9" fill="#f6f6f6" stroke-width="1.59" />
<path d="M364.2,341.5 A14,7.8 0 0 0 388.7,346.648" fill="none" stroke-width="0.85" />
<path d="M365.59999999999997,341.5 A12.6,6.9 0 0 0 387.65,346.054" fill="none" stroke-width="0.85" />
<path d="M367.0,341.5 A11.2,6.0 0 0 0 386.59999999999997,345.46" fill="none" stroke-width="0.85" />
<path d="M368.7,337.5 L368.7,340.5 Q378.2,347 387.7,340.5 L387.7,337.5" fill="#f6f6f6" stroke-width="1.34" />
<ellipse cx="378.2" cy="337.2" rx="9.5" ry="5.2" fill="#f6f6f6" stroke-width="1.46" />
<ellipse cx="377.4" cy="337.2" rx="6.6" ry="3.5" fill="#1c1c1c" />
<ellipse cx="378.2" cy="339.1" rx="1.6" ry="1.0" fill="#f6f6f6" stroke-width="0.37" />
<line x1="383.2" y1="352.3" x2="383.2" y2="354.0" stroke-width="0.85" />
<line x1="384.8" y1="351.8" x2="384.8" y2="353.5" stroke-width="0.85" />
<line x1="386.4" y1="351.3" x2="386.4" y2="353.0" stroke-width="0.85" />
<line x1="388.0" y1="350.8" x2="388.0" y2="352.5" stroke-width="0.85" />
<ellipse cx="182" cy="386.6" rx="15.8" ry="8.8" fill="#f6f6f6" stroke-width="1.59" />
<ellipse cx="182" cy="385" rx="15.8" ry="8.8" fill="#f6f6f6" stroke-width="1.59" />
<ellipse cx="182.2" cy="384.7" rx="9.4" ry="5.4" fill="#f6f6f6" stroke-width="1.71" />
<path d="M173.5,386.5 Q182,379.5 190.8,386" fill="none" stroke-width="0.85" />
<ellipse cx="378.5" cy="372.6" rx="15.8" ry="8.8" fill="#f6f6f6" stroke-width="1.59" />
<ellipse cx="378.5" cy="371" rx="15.8" ry="8.8" fill="#f6f6f6" stroke-width="1.59" />
<ellipse cx="378.7" cy="370.7" rx="9.4" ry="5.4" fill="#f6f6f6" stroke-width="1.71" />
<path d="M370.0,372.5 Q378.5,365.5 387.3,372" fill="none" stroke-width="0.85" />
<ellipse cx="181.5" cy="530.1" rx="17.5" ry="10.5" fill="#f6f6f6" stroke-width="1.71" />
<ellipse cx="181.5" cy="527.5" rx="17.5" ry="10.5" fill="#f6f6f6" stroke-width="1.46" />
<path d="M178.7,427 L178.7,408 Q178.7,406 181.5,406 Q184.3,406 184.3,408 L184.3,427" fill="#f6f6f6" stroke-width="1.34" />
<path d="M176.9,519.0 L176.9,428.5 L178.7,427 L184.3,427 L186.1,428.5 L186.1,519.0 Z" fill="#f6f6f6" stroke-width="0.01" />
<path d="M178.7,427 L176.9,428.5 L176.9,518.0 Q176.3,524.0 171.0,526.5" fill="none" stroke-width="1.83" />
<path d="M184.3,427 L186.1,428.5 L186.1,518.0 Q186.7,524.0 191.5,526.5" fill="none" stroke-width="1.83" />
<line x1="183.6" y1="429" x2="183.6" y2="521.0" stroke-width="1.10" />
<line x1="178.7" y1="427" x2="184.3" y2="427" stroke-width="0.98" />
<path d="M188.0,538.2 l2.5,-1.2 l1,-1.6 l-2.4,0.6 Z" fill="none" stroke-width="0.98" />
<ellipse cx="377.3" cy="491.8" rx="17" ry="10.3" fill="#f6f6f6" stroke-width="1.71" />
<ellipse cx="377.3" cy="489.2" rx="17" ry="10.3" fill="#f6f6f6" stroke-width="1.46" />
<path d="M374.5,400 L374.5,395 Q374.5,393 377.3,393 Q380.1,393 380.1,395 L380.1,400" fill="#f6f6f6" stroke-width="1.34" />
<path d="M372.7,480.9 L372.7,401.5 L374.5,400 L380.1,400 L381.90000000000003,401.5 L381.90000000000003,480.9 Z" fill="#f6f6f6" stroke-width="0.01" />
<path d="M374.5,400 L372.7,401.5 L372.7,479.9 Q372.1,485.9 366.8,488.4" fill="none" stroke-width="1.83" />
<path d="M380.1,400 L381.90000000000003,401.5 L381.90000000000003,479.9 Q382.5,485.9 387.3,488.4" fill="none" stroke-width="1.83" />
<line x1="379.40000000000003" y1="402" x2="379.40000000000003" y2="482.9" stroke-width="1.10" />
<line x1="374.5" y1="400" x2="380.1" y2="400" stroke-width="0.98" />
<path d="M383.8,499.7 l2.5,-1.2 l1,-1.6 l-2.4,0.6 Z" fill="none" stroke-width="0.98" />
<g transform="translate(34.5,45.5) rotate(32.7)">
<path d="M13,-7.8 L0,-7.8 Q-2.6,-7.8 -2.6,0 Q-2.6,7.8 0,7.8 L13,7.8" fill="#f6f6f6" />
<line x1="-2.0" y1="-3.5" x2="11" y2="-3.5" stroke-width="0.85" />
<line x1="-2.0" y1="-2.25" x2="11" y2="-2.25" stroke-width="0.85" />
<line x1="-2.0" y1="-1.0" x2="11" y2="-1.0" stroke-width="0.85" />
<line x1="-2.0" y1="0.25" x2="11" y2="0.25" stroke-width="0.85" />
<line x1="-2.0" y1="1.5" x2="11" y2="1.5" stroke-width="0.85" />
<line x1="-1.5" y1="2.75" x2="11" y2="2.75" stroke-width="0.85" />
<line x1="-1.5" y1="4.0" x2="11" y2="4.0" stroke-width="0.85" />
<line x1="-1.5" y1="5.25" x2="11" y2="5.25" stroke-width="0.85" />
<line x1="-1.5" y1="6.5" x2="11" y2="6.5" stroke-width="0.85" />
<path d="M13,-8.8 L51,-8.8 L51,8.8 L13,8.8 Q8.5,0 13,-8.8 Z" fill="#f6f6f6" />
<path d="M53,-7.8 L64,-7.8 L64,7.8 L53,7.8 Z" fill="#f6f6f6" />
<path d="M51,-8.8 Q46.5,0 51,8.8" fill="none" stroke-width="1.10" />
<path d="M53.5,-8.8 Q49,0 53.5,8.8 L51,8.8 M51,-8.8 L53.5,-8.8" fill="none" stroke-width="1.10" />
<line x1="52.5" y1="-2.0" x2="63" y2="-2.0" stroke-width="0.85" />
<line x1="52.5" y1="-0.75" x2="63" y2="-0.75" stroke-width="0.85" />
<line x1="52.5" y1="0.5" x2="63" y2="0.5" stroke-width="0.85" />
<line x1="52.5" y1="1.75" x2="63" y2="1.75" stroke-width="0.85" />
<line x1="52.5" y1="3.0" x2="63" y2="3.0" stroke-width="0.85" />
<line x1="52.5" y1="4.25" x2="63" y2="4.25" stroke-width="0.85" />
<line x1="52.5" y1="5.5" x2="63" y2="5.5" stroke-width="0.85" />
<line x1="52.5" y1="6.75" x2="63" y2="6.75" stroke-width="0.85" />
<rect x="60.5" y="-7.8" width="7.5" height="15.6" rx="3.5" ry="4.5" fill="#f6f6f6"/>
<ellipse cx="64.5" cy="0.3" rx="1.8" ry="2.4" fill="none" stroke-width="0.98" />
<line x1="11.5" y1="5.4" x2="49.5" y2="5.4" stroke-width="0.98" />
<line x1="12.5" y1="9.4" x2="51" y2="9.4" stroke-width="1.59" />
<ellipse cx="17.9" cy="6.2" rx="1.8" ry="1.8" fill="#f6f6f6" stroke-width="1.22" />
<ellipse cx="41.8" cy="7.3" rx="1.8" ry="1.8" fill="#f6f6f6" stroke-width="1.22" />
<ellipse cx="27.5" cy="-1.8" rx="5.2" ry="8.3" fill="#1c1c1c" />
<path d="M32,-8.3 Q35,-2 33.5,4.800000000000001" fill="none" stroke-width="0.85" />
</g>
<g transform="translate(299.8,60.3) rotate(31.6)">
<path d="M9.5,-7.8 L0,-7.8 Q-2.6,-7.8 -2.6,0 Q-2.6,7.8 0,7.8 L9.5,7.8" fill="#f6f6f6" />
<line x1="-2.0" y1="-3.5" x2="7.5" y2="-3.5" stroke-width="0.85" />
<line x1="-2.0" y1="-2.25" x2="7.5" y2="-2.25" stroke-width="0.85" />
<line x1="-2.0" y1="-1.0" x2="7.5" y2="-1.0" stroke-width="0.85" />
<line x1="-2.0" y1="0.25" x2="7.5" y2="0.25" stroke-width="0.85" />
<line x1="-2.0" y1="1.5" x2="7.5" y2="1.5" stroke-width="0.85" />
<line x1="-1.5" y1="2.75" x2="7.5" y2="2.75" stroke-width="0.85" />
<line x1="-1.5" y1="4.0" x2="7.5" y2="4.0" stroke-width="0.85" />
<line x1="-1.5" y1="5.25" x2="7.5" y2="5.25" stroke-width="0.85" />
<line x1="-1.5" y1="6.5" x2="7.5" y2="6.5" stroke-width="0.85" />
<path d="M9.5,-8.8 L49,-8.8 L49,8.8 L9.5,8.8 Q5.0,0 9.5,-8.8 Z" fill="#f6f6f6" />
<path d="M51,-7.8 L62,-7.8 L62,7.8 L51,7.8 Z" fill="#f6f6f6" />
<path d="M49,-8.8 Q44.5,0 49,8.8" fill="none" stroke-width="1.10" />
<path d="M51.5,-8.8 Q47,0 51.5,8.8 L49,8.8 M49,-8.8 L51.5,-8.8" fill="none" stroke-width="1.10" />
<line x1="50.5" y1="-2.0" x2="61" y2="-2.0" stroke-width="0.85" />
<line x1="50.5" y1="-0.75" x2="61" y2="-0.75" stroke-width="0.85" />
<line x1="50.5" y1="0.5" x2="61" y2="0.5" stroke-width="0.85" />
<line x1="50.5" y1="1.75" x2="61" y2="1.75" stroke-width="0.85" />
<line x1="50.5" y1="3.0" x2="61" y2="3.0" stroke-width="0.85" />
<line x1="50.5" y1="4.25" x2="61" y2="4.25" stroke-width="0.85" />
<line x1="50.5" y1="5.5" x2="61" y2="5.5" stroke-width="0.85" />
<line x1="50.5" y1="6.75" x2="61" y2="6.75" stroke-width="0.85" />
<rect x="58.5" y="-7.8" width="7.5" height="15.6" rx="3.5" ry="4.5" fill="#f6f6f6"/>
<ellipse cx="62.5" cy="0.3" rx="1.8" ry="2.4" fill="none" stroke-width="0.98" />
<line x1="8.0" y1="5.4" x2="47.5" y2="5.4" stroke-width="0.98" />
<line x1="9.0" y1="9.4" x2="49" y2="9.4" stroke-width="1.59" />
<ellipse cx="14.2" cy="5.8" rx="1.8" ry="1.8" fill="#f6f6f6" stroke-width="1.22" />
<ellipse cx="38.7" cy="6.6" rx="1.8" ry="1.8" fill="#f6f6f6" stroke-width="1.22" />
<line x1="12.5" y1="-8.100000000000001" x2="47" y2="-8.100000000000001" stroke-width="1.95" />
</g>
<path d="M40.0,20.8 C40.0,21.5 39.5,24.0 39.8,25.3 C40.0,26.6 40.3,27.6 41.6,28.4 C42.9,29.2 45.7,30.0 47.8,30.0 C49.8,30.0 52.6,29.2 53.9,28.4 C55.3,27.6 55.5,26.6 55.8,25.3 C56.0,24.0 55.6,21.2 55.5,20.4" fill="#f6f6f6" />
<path d="M40.0,20.8 C40.6,21.2 41.9,22.9 43.5,23.5 C45.1,24.0 47.6,24.6 49.6,24.1 C51.6,23.6 54.5,21.0 55.5,20.4" fill="none" stroke-width="0.98" />
<path d="M42.2,14.2 C42.1,14.8 41.9,16.8 41.6,17.9 C41.4,19.0 40.1,19.8 40.8,20.8 C41.4,21.7 43.5,23.1 45.3,23.5 C47.1,23.9 49.8,23.7 51.5,23.2 C53.1,22.7 54.8,21.5 55.3,20.4 C55.8,19.3 54.7,17.8 54.5,16.7 C54.4,15.6 54.3,14.1 54.3,13.6" fill="#f6f6f6" />
<ellipse cx="48.261538461538464" cy="13.861538461538462" rx="6.2" ry="3.8" fill="#f6f6f6" />
<ellipse cx="48.261538461538464" cy="14.107692307692307" rx="3.8" ry="2.2" fill="#1c1c1c" />
<path d="M45.3,17.3 L44.9,23.1" fill="none" stroke-width="0.85" />
<path d="M51.8,17.3 L52.1,23.0" fill="none" stroke-width="0.85" />
<path d="M42.2,17.3 C42.7,17.5 43.7,18.2 45.3,18.3 C46.9,18.4 50.3,18.3 51.8,18.0 C53.4,17.8 54.1,16.9 54.5,16.7" fill="none" stroke-width="0.85" />
<path d="M50.2,100.2 L64.3,93.4 L64.3,115.5 L45.2,122.3 L38.5,121.1 L38.5,99.5 L35.4,96.5 L46.5,90.3 Z" fill="#f6f6f6" />
<path d="M35.4,96.5 L46.5,90.3 L64.3,93.4 L50.2,100.2 Z" fill="#f6f6f6" />
<path d="M35.4,96.5 L35.8,98.6 L38.5,99.5" fill="none" stroke-width="0.98" />
<path d="M38.5,99.5 L49.5,102.2 L50.2,100.2" fill="none" stroke-width="0.98" />
<path d="M49.5,102.2 L58.2,98.1" fill="none" stroke-width="0.98" />
<path d="M58.4,97.8 L58.4,117.8" fill="none" stroke-width="0.61" />
<path d="M59.1,97.5 L59.1,117.5" fill="none" stroke-width="0.61" />
<path d="M59.9,97.2 L59.9,117.2" fill="none" stroke-width="0.61" />
<path d="M60.6,96.8 L60.6,117.0" fill="none" stroke-width="0.61" />
<path d="M61.4,96.5 L61.4,116.7" fill="none" stroke-width="0.61" />
<path d="M62.1,96.2 L62.1,116.4" fill="none" stroke-width="0.61" />
<path d="M62.8,95.8 L62.8,116.2" fill="none" stroke-width="0.61" />
<path d="M63.6,95.5 L63.6,115.9" fill="none" stroke-width="0.61" />
<path d="M64.3,95.2 L64.3,115.6" fill="none" stroke-width="0.61" />
<path d="M45.2,122.3 C45.3,120.4 45.3,113.4 45.5,110.6 C45.7,107.8 45.8,106.8 46.5,105.7 C47.1,104.6 48.3,103.9 49.5,103.8 C50.8,103.7 52.6,104.4 53.8,105.1 C55.1,105.8 56.4,107.6 56.9,108.2" fill="none" stroke-width="0.98" />
<path d="M56.9,108.2 L56.9,118.2" fill="none" stroke-width="0.98" />
<path d="M38.7,114.3 C38.9,113.8 39.1,111.9 39.7,111.2 C40.3,110.5 41.3,109.9 42.2,110.0 C43.0,110.1 44.1,111.0 44.6,111.8 C45.2,112.7 45.3,114.4 45.5,114.9" fill="none" stroke-width="0.98" />
<path d="M45.5,102.2 L45.5,110.6" fill="none" stroke-width="0.98" />
<path d="M52.2,101.4 L52.2,104.5" fill="none" stroke-width="0.98" />
<ellipse cx="50.769230769230774" cy="93.75384615384615" rx="5.6" ry="2.8" fill="#f6f6f6" stroke-width="0.98" />
<path d="M46.5,92.8 C45.9,92.1 46.6,90.7 47.3,89.9 C48.0,89.2 49.6,88.5 50.8,88.5 C52.0,88.5 53.7,89.2 54.5,89.9 C55.2,90.7 56.1,92.1 55.4,92.8 C54.8,93.5 52.3,94.1 50.8,94.1 C49.3,94.1 47.0,93.5 46.5,92.8 Z" fill="#1c1c1c" stroke-width="0.73" />
<path d="M184.8,95.2 C184.7,93.7 185.0,92.7 186.6,90.8 C188.3,89.0 191.2,86.5 194.6,84.1 C198.0,81.6 203.4,78.1 206.9,76.1 C210.4,74.1 212.7,73.0 215.5,72.1 C218.4,71.3 221.7,70.9 224.2,71.2 C226.6,71.4 229.1,72.5 230.3,73.9 C231.5,75.2 231.9,77.2 231.5,79.2 C231.1,81.1 229.9,83.3 227.8,85.3 C225.8,87.4 222.7,89.5 219.2,91.5 C215.7,93.5 211.0,95.7 206.9,97.2 C202.8,98.7 197.9,100.1 194.6,100.4 C191.3,100.8 188.9,100.3 187.2,99.5 C185.6,98.6 184.9,96.6 184.8,95.2 Z" fill="#f6f6f6" stroke-width="1.83" />
<ellipse cx="191.53846153846155" cy="95.15384615384616" rx="3.1" ry="2.2" fill="none" stroke-width="1.34" transform="rotate(-10 191.53846153846155 95.15384615384616)" />
<ellipse cx="204.46153846153845" cy="89.0" rx="6" ry="3.8" fill="none" stroke-width="1.59" transform="rotate(-12 204.46153846153845 89.0)" />
<ellipse cx="218.0" cy="79.76923076923077" rx="5.8" ry="3.8" fill="none" stroke-width="1.59" transform="rotate(-8 218.0 79.76923076923077)" />
<path d="M177.4,106.2 L179.2,103.4 L183.5,101.9 L187.8,103.2 L189.1,106.2 L189.1,109.3 L186.0,111.8 L181.1,112.4 L177.6,109.9 Z" fill="#f6f6f6" stroke-width="1.34" />
<path d="M177.4,106.2 L180.8,108.7 L186.0,108.1 L189.1,106.2" fill="none" stroke-width="0.98" />
<path d="M180.8,108.7 L181.1,112.4" fill="none" stroke-width="0.85" />
<path d="M186.0,108.1 L186.0,111.8" fill="none" stroke-width="0.85" />
<ellipse cx="183.04615384615386" cy="105.0" rx="3.6" ry="2.3" fill="#f6f6f6" stroke-width="0.98" />
<ellipse cx="183.04615384615386" cy="105.12307692307692" rx="2.2" ry="1.4" fill="#1c1c1c" />
<path d="M179.1,189.5 L179.1,176.5 Q179.1,173.5 182.7,173.5 Q186.29999999999998,173.5 186.29999999999998,176.5 L186.29999999999998,189.5" fill="#f6f6f6" />
<path d="M179.1,176.0 L186.29999999999998,177.2" fill="none" stroke-width="0.85" />
<path d="M179.1,178.0 L186.29999999999998,179.2" fill="none" stroke-width="0.85" />
<path d="M179.1,180.0 L186.29999999999998,181.2" fill="none" stroke-width="0.85" />
<path d="M179.1,182.0 L186.29999999999998,183.2" fill="none" stroke-width="0.85" />
<path d="M179.1,184.0 L186.29999999999998,185.2" fill="none" stroke-width="0.85" />
<path d="M179.1,186.0 L186.29999999999998,187.2" fill="none" stroke-width="0.85" />
<path d="M179.1,188.0 L186.29999999999998,189.2" fill="none" stroke-width="0.85" />
<line x1="184.89999999999998" y1="175.5" x2="184.89999999999998" y2="189.5" stroke-width="1.46" />
<path d="M176.2,191.5 Q176.2,189.5 182.7,189.5 Q189.2,189.5 189.2,191.5 L189.2,200.5 Q186.7,204.0 182.7,204.0 Q178.7,204.0 176.2,200.5 Z" fill="#f6f6f6" stroke-width="1.34" />
<path d="M176.2,192.5 Q182.7,196.5 189.2,192.5" fill="none" stroke-width="0.98" />
<path d="M176.2,194.5 Q182.7,198.5 189.2,194.5" fill="none" stroke-width="0.98" />
<line x1="187.2" y1="195.5" x2="187.2" y2="201.5" stroke-width="1.22" />
<path d="M168.9,214.5 C168.8,213.6 168.7,211.9 169.0,211.3 C169.4,210.7 170.9,209.6 171.8,209.4 C172.7,209.1 175.8,208.9 176.7,209.1 C177.6,209.3 179.1,210.3 179.4,211.0 C179.8,211.7 180.0,214.1 179.9,214.8 C179.9,215.5 179.3,216.6 178.9,216.9 C178.5,217.2 177.0,217.4 176.7,217.4 C176.4,217.3 176.3,217.0 176.3,216.5 C176.3,216.1 176.7,214.0 176.7,213.4 C176.6,212.8 176.0,211.7 175.6,211.5 C175.2,211.2 173.5,211.2 173.1,211.5 C172.6,211.7 172.0,212.9 171.9,213.4 C171.9,214.0 172.4,215.5 172.5,216.2 C172.6,216.9 173.0,218.8 172.8,219.3 C172.7,219.8 171.5,220.5 171.1,220.5 C170.7,220.5 169.6,219.7 169.4,219.0 C169.1,218.3 168.9,215.3 168.9,214.5 Z" fill="#f6f6f6" stroke-width="1.52" />
<path d="M174.2,212.4 L174.4,214.8" fill="none" stroke-width="0.98" />
<path d="M175.4,212.4 L175.6,214.7" fill="none" stroke-width="0.98" />
<path d="M170.4,213.4 C170.4,213.8 170.2,215.8 170.3,216.5 C170.3,217.3 170.7,218.9 170.8,219.3" fill="none" stroke-width="0.98" />
<path d="M190.6,219.4 C190.9,219.1 193.3,218.7 194.0,219.0 C194.7,219.2 196.2,220.7 196.5,221.4 C196.7,222.1 196.5,224.4 196.2,225.2 C196.0,226.1 194.8,228.1 194.2,228.7 C193.5,229.3 191.4,230.1 190.6,230.2 C189.7,230.3 187.7,229.9 187.2,229.5 C186.7,229.1 186.0,227.3 186.0,226.8 C186.1,226.2 187.3,225.0 187.8,224.7 C188.3,224.3 190.2,224.3 190.6,224.0 C191.0,223.6 191.2,222.3 191.2,221.8 C191.2,221.2 190.2,219.7 190.6,219.4 Z" fill="#f6f6f6" stroke-width="1.52" />
<path d="M191.8,221.2 C192.1,221.0 193.8,221.9 194.0,222.3 C194.2,222.7 193.8,224.0 193.5,224.2 C193.2,224.4 192.0,224.2 191.8,223.8 C191.6,223.4 191.5,221.4 191.8,221.2 Z" fill="none" stroke-width="1.10" />
<path d="M187.8,227.0 C188.1,227.0 189.8,227.4 190.6,227.3 C191.3,227.3 192.8,227.0 193.3,226.6 C193.9,226.2 194.5,224.8 194.7,224.5" fill="none" stroke-width="0.98" />
<path d="M190.6,224.0 L190.9,227.0" fill="none" stroke-width="0.98" />
<path d="M364.7,201.7 C364.6,200.8 364.5,199.1 364.8,198.5 C365.2,197.9 366.7,196.8 367.6,196.6 C368.5,196.3 371.6,196.1 372.5,196.3 C373.4,196.5 374.9,197.5 375.2,198.2 C375.6,198.9 375.8,201.3 375.7,202.0 C375.7,202.7 375.1,203.8 374.7,204.1 C374.3,204.4 372.8,204.6 372.5,204.6 C372.2,204.5 372.1,204.2 372.1,203.7 C372.1,203.3 372.5,201.2 372.5,200.6 C372.4,200.0 371.8,198.9 371.4,198.7 C371.0,198.4 369.3,198.4 368.9,198.7 C368.4,198.9 367.8,200.1 367.7,200.6 C367.7,201.2 368.2,202.7 368.3,203.4 C368.4,204.1 368.8,206.0 368.6,206.5 C368.5,207.0 367.3,207.7 366.9,207.7 C366.5,207.7 365.4,206.9 365.2,206.2 C364.9,205.5 364.7,202.5 364.7,201.7 Z" fill="#f6f6f6" stroke-width="1.52" />
<path d="M370.0,199.6 L370.2,202.0" fill="none" stroke-width="0.98" />
<path d="M371.2,199.6 L371.4,201.9" fill="none" stroke-width="0.98" />
<path d="M366.2,200.6 C366.2,201.0 366.0,203.0 366.1,203.7 C366.1,204.5 366.5,206.1 366.6,206.5" fill="none" stroke-width="0.98" />
<path d="M386.4,205.6 C386.7,205.3 389.1,204.9 389.8,205.2 C390.5,205.4 392.0,206.9 392.3,207.6 C392.5,208.3 392.3,210.6 392.1,211.4 C391.8,212.3 390.6,214.3 390.0,214.9 C389.3,215.5 387.2,216.3 386.4,216.4 C385.5,216.5 383.5,216.1 383.0,215.7 C382.5,215.3 381.8,213.5 381.8,212.9 C381.9,212.4 383.1,211.2 383.6,210.9 C384.1,210.5 386.0,210.5 386.4,210.2 C386.8,209.8 387.1,208.5 387.1,207.9 C387.1,207.4 386.0,205.9 386.4,205.6 Z" fill="#f6f6f6" stroke-width="1.52" />
<path d="M387.6,207.4 C387.9,207.2 389.6,208.1 389.8,208.5 C390.1,208.9 389.6,210.2 389.3,210.4 C389.0,210.6 387.8,210.4 387.6,210.0 C387.4,209.6 387.3,207.6 387.6,207.4 Z" fill="none" stroke-width="1.10" />
<path d="M383.6,213.2 C383.9,213.2 385.6,213.6 386.4,213.5 C387.1,213.5 388.6,213.2 389.1,212.8 C389.7,212.4 390.3,211.0 390.5,210.7" fill="none" stroke-width="0.98" />
<path d="M386.4,210.2 L386.7,213.2" fill="none" stroke-width="0.98" />
<path d="M144.6,150.3 C144.6,151.2 144.2,155.5 144.5,156.8 C144.7,158.1 145.8,159.5 146.8,160.0 C147.8,160.6 150.4,161.0 151.9,160.9 C153.3,160.9 156.3,160.2 157.4,159.6 C158.4,158.9 159.4,157.6 159.7,156.3 C160.0,155.0 159.5,150.7 159.4,149.9" fill="#f6f6f6" stroke-width="1.46" />
<path d="M144.6,151.7 C145.1,152.0 146.7,153.7 148.2,154.0 C149.6,154.3 154.0,154.4 155.5,154.0 C157.0,153.7 158.9,151.8 159.4,151.4" fill="none" stroke-width="1.10" />
<path d="M146.8,145.7 L146.8,150.5 L151.9,151.7 L157.4,150.3 L157.4,145.7" fill="#f6f6f6" stroke-width="1.34" />
<path d="M155.7,146.2 L155.7,153.5" fill="none" stroke-width="2.20" />
<path d="M157.9,154.5 L158.1,158.6" fill="none" stroke-width="1.95" />
<path d="M142.8,140.0 C142.8,139.1 144.4,136.5 144.9,136.0 C145.5,135.5 146.7,134.6 148.2,134.6 C149.6,134.6 157.7,136.0 159.7,136.0 C161.7,136.1 166.8,135.4 168.5,135.2 C170.2,134.9 175.5,134.2 176.8,133.7 C178.1,133.2 180.2,130.8 181.4,130.0 C182.6,129.2 187.6,126.2 188.3,125.6 C189.1,124.9 188.5,123.9 188.9,123.7 C189.2,123.5 191.4,123.3 191.9,123.4 C192.3,123.4 193.5,124.0 193.9,124.3 C194.3,124.5 195.2,125.3 195.5,125.8 C195.9,126.4 196.7,129.4 197.2,130.0 C197.7,130.6 199.4,131.7 200.2,131.9 C200.9,132.0 203.9,131.3 204.8,131.1 C205.7,130.9 208.1,130.0 208.9,130.0 C209.8,130.0 213.0,131.2 213.5,130.9 C214.1,130.7 213.9,127.8 214.2,127.2 C214.5,126.7 216.1,125.4 216.8,125.2 C217.5,125.0 220.6,125.0 221.4,125.2 C222.2,125.4 224.6,126.6 225.1,127.2 C225.6,127.9 225.9,131.0 226.0,131.9 C226.1,132.7 226.2,135.3 226.0,136.0 C225.8,136.7 224.0,137.9 223.7,138.8 C223.4,139.7 223.5,143.7 223.4,144.8 C223.4,145.9 223.3,149.0 223.1,149.9 C222.8,150.7 221.1,152.4 220.7,153.1 C220.2,153.8 219.2,156.1 218.6,156.8 C218.1,157.5 215.9,159.3 214.9,160.0 C214.0,160.7 210.6,163.0 209.4,163.4 C208.2,163.9 204.0,164.8 202.9,164.7 C201.9,164.6 199.4,163.1 198.8,162.5 C198.2,161.9 197.6,158.9 196.9,158.6 C196.2,158.3 192.8,159.6 191.9,159.6 C190.9,159.5 187.4,157.8 187.2,157.7 C187.0,157.6 190.0,159.4 189.7,158.6 C189.4,157.8 185.6,150.8 184.2,149.9 C182.7,148.9 176.4,149.5 174.9,149.2 C173.5,148.9 170.6,147.5 169.9,146.8 C169.1,146.2 168.4,142.9 167.5,142.7 C166.7,142.6 162.7,144.6 161.1,145.0 C159.5,145.3 153.5,146.3 151.9,146.3 C150.2,146.2 145.8,145.4 144.9,144.8 C144.0,144.1 142.8,140.9 142.8,140.0 Z" fill="#f6f6f6" stroke-width="1.59" />
<path d="M144.3,140.6 C145.0,140.6 150.3,140.1 151.9,140.0 C153.4,139.9 158.8,139.8 160.2,139.7 C161.5,139.6 164.9,139.2 165.7,139.1 C166.5,138.9 167.5,138.0 167.7,137.9" fill="none" stroke-width="1.22" />
<path d="M177.7,133.2 C178.2,133.0 181.1,131.2 182.3,130.5 C183.6,129.7 189.1,126.4 190.2,125.8 C191.3,125.2 193.1,124.6 193.4,124.5" fill="none" stroke-width="0.98" />
<path d="M170.5,141.5 C170.9,141.2 172.6,138.9 173.5,138.5 C174.5,138.1 177.4,137.7 178.6,137.8 C179.8,137.8 182.6,138.7 183.7,139.2 C184.8,139.8 186.9,141.5 187.9,142.2 C188.8,142.8 191.3,144.4 192.0,144.8 C192.8,145.2 194.1,145.6 194.3,145.7" fill="none" stroke-width="1.22" />
<path d="M170.5,141.5 C170.7,141.9 171.4,143.8 172.2,144.3 C172.9,144.8 175.7,145.5 176.8,145.7 C177.9,145.9 180.5,145.8 181.4,146.2 C182.3,146.5 183.8,148.2 184.2,148.5" fill="none" stroke-width="1.22" />
<path d="M181.4,140.2 C181.6,140.4 182.9,141.9 183.2,142.5 C183.6,143.0 184.1,144.5 184.2,144.8" fill="none" stroke-width="0.98" />
<ellipse cx="174.93444136657433" cy="140.8993536472761" rx="1.1" ry="1.1" fill="none" stroke-width="1.10" />
<ellipse cx="186.66112650046168" cy="147.36288088642658" rx="1.5" ry="1.7" fill="none" stroke-width="1.10" />
<path d="M184.2,144.8 C184.7,144.5 187.1,144.1 187.9,144.3 C188.6,144.5 189.5,145.5 189.7,146.2 C189.9,146.8 189.7,148.8 189.2,149.4 C188.8,149.9 187.2,150.4 186.5,150.3 C185.8,150.2 184.5,149.0 184.2,148.5 C183.8,147.9 184.0,146.7 184.0,146.2 C184.0,145.7 183.7,145.0 184.2,144.8 Z" fill="none" stroke-width="1.10" />
<path d="M189.1,157.9 L197.9,148.7" fill="none" stroke-width="1.10" />
<path d="M192.8,149.4 L210.3,133.2" fill="none" stroke-width="1.22" />
<path d="M196.0,149.9 L212.6,134.6" fill="none" stroke-width="0.85" />
<path d="M193.2,124.0 C193.3,123.8 195.1,124.8 195.5,125.2 C196.0,125.6 197.4,127.5 197.9,128.2 C198.3,128.8 200.2,131.6 200.2,131.9 C200.1,132.1 197.7,130.9 197.2,130.5 C196.7,130.0 195.8,128.3 195.4,127.7 C195.0,127.0 193.2,124.3 193.2,124.0 Z" fill="#1c1c1c" stroke-width="0.98" />
<path d="M147.2,131.9 L147.2,136.0 L150.9,138.3 L156.9,137.6 L160.2,135.1 L160.2,130.9 L156.5,128.9 L150.5,129.3 Z" fill="#f6f6f6" stroke-width="1.46" />
<path d="M147.2,131.9 L150.9,133.9 L156.9,133.2 L160.2,130.9" fill="none" stroke-width="1.10" />
<path d="M150.9,133.9 L150.9,138.3" fill="none" stroke-width="0.98" />
<path d="M156.9,133.2 L156.9,137.6" fill="none" stroke-width="0.98" />
<path d="M149.8,130.9 C149.3,130.4 149.5,128.4 150.0,127.7 C150.5,127.0 152.4,125.9 153.2,125.8 C154.1,125.8 156.0,126.6 156.5,127.2 C157.0,127.8 157.3,129.8 156.9,130.5 C156.6,131.1 154.6,131.8 153.7,131.9 C152.7,131.9 150.3,131.5 149.8,130.9 Z" fill="#f6f6f6" stroke-width="1.34" />
<ellipse cx="153.32779316712833" cy="128.8956602031394" rx="3.0" ry="1.9" fill="none" stroke-width="1.10" />
<path d="M197.4,153.1 C197.6,152.0 198.1,149.6 198.8,148.5 C199.5,147.3 202.2,144.4 203.4,143.4 C204.6,142.4 207.9,140.2 209.4,139.7 C210.8,139.2 214.8,138.6 215.9,138.8 C216.9,138.9 218.1,140.2 218.6,141.1 C219.1,142.0 220.0,145.2 220.0,146.6 C220.1,148.0 219.6,151.7 219.1,153.1 C218.6,154.5 217.0,157.4 215.9,158.6 C214.7,159.8 210.9,162.5 209.4,163.2 C207.9,163.9 204.2,164.7 202.9,164.6 C201.7,164.5 199.5,163.1 198.8,162.3 C198.1,161.5 197.1,158.8 196.9,157.7 C196.8,156.6 197.2,154.2 197.4,153.1 Z" fill="#f6f6f6" stroke-width="1.59" />
<path d="M197.2,153.1 C197.1,153.4 196.1,154.5 196.1,155.4 C196.1,156.3 196.5,159.5 196.9,160.5 C197.3,161.4 199.0,163.2 199.7,163.7 C200.4,164.2 202.6,164.6 202.9,164.7" fill="none" stroke-width="2.20" />
<ellipse cx="209.39427516158818" cy="151.7026777469991" rx="10.6" ry="7.0" fill="none" stroke-width="1.10" transform="rotate(-43 209.39427516158818 151.7026777469991)" />
<ellipse cx="209.39427516158818" cy="151.7026777469991" rx="8.9" ry="5.3" fill="#1c1c1c" transform="rotate(-43 209.39427516158818 151.7026777469991)" />
<path d="M220.7,139.2 C221.0,139.9 223.1,143.5 223.4,144.8 C223.7,146.0 223.4,148.8 223.1,149.9 C222.7,150.9 220.9,153.1 220.7,153.5" fill="none" stroke-width="2.93" />
<path d="M226.0,131.9 C226.0,132.3 226.4,135.2 226.2,136.0 C226.0,136.8 224.2,138.5 224.0,138.8" fill="none" stroke-width="2.44" />
<path d="M213.8,129.5 C213.7,128.9 213.9,127.7 214.2,127.2 C214.5,126.7 215.9,125.6 216.8,125.4 C217.6,125.1 220.4,125.0 221.4,125.2 C222.4,125.4 224.6,126.6 225.1,127.2 C225.6,127.8 225.9,129.8 225.8,130.5 C225.7,131.1 224.9,132.4 224.2,132.8 C223.4,133.2 220.6,133.8 219.6,133.7 C218.5,133.6 216.1,132.8 215.4,132.3 C214.7,131.8 214.0,130.1 213.8,129.5 Z" fill="#f6f6f6" stroke-width="1.46" />
<ellipse cx="219.55124653739614" cy="128.6186518928901" rx="5.4" ry="3.4" fill="#f6f6f6" stroke-width="1.22" />
<ellipse cx="219.55124653739614" cy="128.8956602031394" rx="3.0" ry="1.6" fill="#1c1c1c" />
<path d="M214.2,130.5 C214.3,130.9 214.4,133.5 214.9,134.2 C215.5,134.8 218.2,135.5 218.6,135.7" fill="none" stroke-width="1.10" />
<path d="M176.3,155.9 C176.0,156.8 175.8,160.1 175.9,161.4 C176.0,162.7 176.6,166.0 177.2,166.9 C177.9,167.9 180.3,169.4 181.4,169.7 C182.5,170.0 185.9,169.7 186.9,169.2 C188.0,168.8 189.7,167.0 190.2,166.0 C190.6,165.0 190.7,161.8 190.6,160.5 C190.6,159.2 190.1,155.8 189.7,154.9 C189.3,154.1 187.8,153.4 186.9,153.1 C186.1,152.8 183.3,152.6 182.3,152.6 C181.4,152.7 179.3,153.2 178.6,153.5 C177.9,153.9 176.6,154.9 176.3,155.9 Z" fill="#f6f6f6" stroke-width="1.59" />
<ellipse cx="183.24469067405357" cy="155.39612188365652" rx="4.3" ry="2.7" fill="#f6f6f6" stroke-width="1.22" />
<ellipse cx="183.24469067405357" cy="155.67313019390582" rx="2.5" ry="1.4" fill="#1c1c1c" />
<path d="M176.0,159.6 C176.8,159.9 179.5,162.3 181.4,162.3 C183.3,162.3 189.2,160.1 190.4,159.7" fill="none" stroke-width="1.10" />
<path d="M176.6,164.6 C177.3,164.9 180.0,167.0 181.9,166.9 C183.7,166.9 189.1,164.5 190.3,164.2" fill="none" stroke-width="1.10" />
<path d="M188.3,159.1 L188.6,167.9" fill="none" stroke-width="1.95" />
<path d="M441.9,133.2 C441.9,134.0 441.7,136.4 442.3,137.7 C442.9,138.9 444.3,140.3 445.6,140.6 C446.8,141.0 448.8,140.6 450.0,139.9 C451.2,139.1 452.6,137.5 452.9,136.2 C453.3,134.8 452.3,132.5 452.2,131.8" fill="#f6f6f6" stroke-width="1.34" />
<path d="M442.9,135.5 C443.5,135.8 444.9,137.7 446.3,137.7 C447.7,137.7 450.6,135.8 451.5,135.5" fill="none" stroke-width="0.98" />
<path d="M353.5,122.5 C354.5,120.8 361.7,118.9 364.5,118.0 C367.4,117.1 375.6,115.3 377.8,114.8 C380.1,114.3 382.5,114.6 383.7,113.9 C385.0,113.2 386.8,109.9 388.2,108.9 C389.6,107.8 394.0,105.6 395.6,105.2 C397.1,104.7 400.2,104.5 401.5,104.9 C402.8,105.2 405.9,107.3 406.6,108.1 C407.4,108.9 407.9,111.1 408.1,111.8 C408.3,112.5 407.4,113.2 408.6,114.0 C409.9,114.9 416.6,118.3 419.0,119.2 C421.4,120.2 427.2,121.8 429.3,122.2 C431.4,122.5 435.1,122.4 436.7,121.9 C438.3,121.3 442.3,118.6 443.3,117.7 C444.4,116.9 444.7,115.2 445.6,114.8 C446.4,114.3 449.7,113.5 450.7,113.7 C451.8,113.9 454.1,115.6 454.7,116.5 C455.4,117.5 456.2,120.8 456.2,122.2 C456.2,123.5 455.1,126.9 454.4,128.1 C453.7,129.2 451.2,131.2 450.0,131.8 C448.8,132.3 445.5,132.0 444.1,132.8 C442.7,133.6 439.5,137.0 438.2,138.7 C436.9,140.4 434.6,145.5 433.0,147.0 C431.5,148.4 426.8,150.8 424.9,151.3 C423.0,151.7 418.3,151.0 416.8,150.5 C415.2,150.0 412.7,147.1 411.6,147.0 C410.5,146.9 408.5,148.9 407.2,149.5 C405.8,150.1 401.5,151.5 399.8,152.0 C398.0,152.5 394.0,153.2 392.4,153.5 C390.7,153.7 386.2,154.1 385.7,154.4 C385.2,154.6 388.1,156.0 388.2,155.4 C388.2,154.7 386.1,150.2 386.0,148.7 C385.8,147.3 386.1,143.9 386.7,142.8 C387.3,141.8 389.9,140.7 391.1,139.9 C392.3,139.0 396.2,136.7 397.0,135.5 C397.9,134.2 398.9,130.7 398.5,129.5 C398.2,128.4 395.6,125.9 394.1,125.4 C392.5,124.9 387.6,125.2 385.2,125.4 C382.8,125.6 376.0,126.8 373.4,127.3 C370.8,127.9 365.1,129.8 363.1,130.3 C361.0,130.8 356.8,132.7 355.7,131.8 C354.6,130.8 352.4,124.1 353.5,122.5 Z" fill="#f6f6f6" stroke-width="1.59" />
<path d="M354.9,126.3 C356.2,125.8 363.2,122.6 366.0,121.7 C368.9,120.8 377.1,119.2 379.3,118.8 C381.6,118.3 383.9,118.4 385.2,117.7 C386.5,117.0 389.0,113.8 390.4,112.7 C391.8,111.6 395.7,109.2 397.0,108.6 C398.4,108.0 401.2,107.6 402.2,107.7 C403.2,107.7 405.5,109.0 405.9,109.2" fill="none" stroke-width="1.10" />
<path d="M357.2,131.8 C358.9,131.6 368.8,130.4 371.9,130.3 C375.0,130.2 381.7,130.6 383.7,131.0 C385.8,131.4 388.7,133.4 389.4,133.7" fill="none" stroke-width="2.93" />
<ellipse cx="388.4711964549483" cy="132.20088626292466" rx="2.2" ry="2.0" fill="#1c1c1c" />
<path d="M386.0,122.9 C386.9,123.0 392.5,123.1 394.1,123.6 C395.6,124.2 398.6,126.4 399.3,127.3 C399.9,128.3 400.2,130.6 400.0,131.8 C399.8,133.0 398.7,136.4 397.8,137.7 C396.8,139.0 393.2,142.0 391.9,142.8 C390.6,143.7 387.3,144.8 386.7,145.1" fill="none" stroke-width="1.10" />
<path d="M400.0,128.1 C400.5,128.5 403.7,131.0 404.4,131.8 C405.1,132.5 405.7,134.0 405.9,134.3" fill="none" stroke-width="1.10" />
<path d="M393.3,117.4 L404.4,124.4" fill="none" stroke-width="1.10" />
<path d="M394.4,116.0 L405.9,123.3" fill="none" stroke-width="0.85" />
<path d="M392.6,118.9 L402.2,125.1" fill="none" stroke-width="0.85" />
<path d="M388.0,148.7 C389.0,148.2 394.9,145.9 396.8,144.3 C398.7,142.8 402.8,137.1 404.2,135.5 C405.6,133.8 407.2,131.3 408.6,130.3 C410.1,129.2 414.5,127.2 416.8,126.6 C419.0,126.0 425.6,125.2 427.8,124.8 C430.1,124.5 435.0,123.8 436.0,123.6" fill="none" stroke-width="1.22" />
<path d="M385.7,153.8 C386.7,153.6 391.9,152.9 393.9,152.6 C395.8,152.2 400.8,151.4 402.7,150.7 C404.7,150.0 409.5,147.1 410.4,146.7" fill="none" stroke-width="3.90" />
<path d="M433.0,147.0 C433.6,146.1 436.9,141.1 438.2,139.6 C439.5,138.0 442.7,134.6 444.1,133.7 C445.5,132.8 449.3,132.0 450.0,131.8" fill="none" stroke-width="3.05" />
<ellipse cx="423.70014771048744" cy="138.70014771048744" rx="8.3" ry="10.2" fill="#f6f6f6" stroke-width="1.46" transform="rotate(25 423.70014771048744 138.70014771048744)" />
<ellipse cx="423.109305760709" cy="138.40472673559822" rx="6.2" ry="8.6" fill="#1c1c1c" transform="rotate(25 423.109305760709 138.40472673559822)" />
<path d="M425.6,131.8 C426.1,132.2 428.8,133.5 429.3,134.7 C429.8,135.9 429.8,139.1 429.3,140.6 C428.8,142.1 426.7,144.9 425.6,145.8 C424.5,146.7 421.8,147.3 421.2,147.6" fill="none" stroke-width="2.68" stroke="#f6f6f6"/>
<path d="M427.8,133.7 C428.1,134.2 430.0,136.4 430.1,137.7 C430.2,138.9 429.3,141.6 428.6,142.8 C427.9,144.1 425.4,146.4 424.9,147.0" fill="none" stroke-width="0.98" />
<ellipse cx="448.5155096011817" cy="116.98670605612999" rx="3.1" ry="2.2" fill="#f6f6f6" stroke-width="1.22" transform="rotate(-15 448.5155096011817 116.98670605612999)" />
<path d="M443.3,122.2 C444.0,122.2 447.1,122.4 448.5,122.2 C449.9,122.0 453.0,120.9 453.7,120.7" fill="none" stroke-width="0.98" />
<path d="M453.7,120.7 C453.7,121.2 454.2,123.5 454.1,124.4 C454.1,125.3 453.4,126.9 453.2,127.3" fill="none" stroke-width="0.98" />
<path d="M344.5,147.3 L344.5,152.3 Q349.5,155.8 354.5,152.3 L354.5,147.3 Z" fill="#f6f6f6" stroke-width="1.34" />
<path d="M344.5,149.3 Q349.5,152.3 354.5,149.3" fill="none" stroke-width="0.98" />
<path d="M343.5,127.8 Q341.0,132.3 341.5,137.3 Q342.0,143.3 344.5,147.3 Q349.5,150.3 354.5,147.3 Q357.0,143.3 357.5,137.3 Q358.0,132.3 355.5,127.8 Z" fill="#f6f6f6" stroke-width="1.46" />
<path d="M341.5,134.3 Q349.5,139.3 357.5,134.3" fill="none" stroke-width="1.10" />
<path d="M341.7,140.3 Q349.5,145.3 357.3,140.3" fill="none" stroke-width="1.10" />
<path d="M355.5,129.3 Q358.0,137.3 355.0,146.3" fill="none" stroke-width="2.44" />
<path d="M343.5,125.3 L343.5,128.8 Q349.5,132.3 355.5,128.8 L355.5,125.3 Q349.5,121.3 343.5,125.3 Z" fill="#f6f6f6" stroke-width="1.34" />
<path d="M346.1,125.8 L346.1,121.1 Q349.5,117.8 352.9,121.1 L352.9,125.8 Q349.5,128.3 346.1,125.8 Z" fill="#f6f6f6" stroke-width="1.22" />
<path d="M346.1,121.6 Q349.5,124.3 352.9,121.6" fill="none" stroke-width="0.98" />
<path d="M373.7,165.5 L373.7,170.5 Q378.7,174.0 383.7,170.5 L383.7,165.5 Z" fill="#f6f6f6" stroke-width="1.34" />
<path d="M373.7,167.5 Q378.7,170.5 383.7,167.5" fill="none" stroke-width="0.98" />
<path d="M372.7,146.0 Q370.2,150.5 370.7,155.5 Q371.2,161.5 373.7,165.5 Q378.7,168.5 383.7,165.5 Q386.2,161.5 386.7,155.5 Q387.2,150.5 384.7,146.0 Z" fill="#f6f6f6" stroke-width="1.46" />
<path d="M370.7,152.5 Q378.7,157.5 386.7,152.5" fill="none" stroke-width="1.10" />
<path d="M370.9,158.5 Q378.7,163.5 386.5,158.5" fill="none" stroke-width="1.10" />
<path d="M384.7,147.5 Q387.2,155.5 384.2,164.5" fill="none" stroke-width="2.44" />
<path d="M372.7,143.5 L372.7,147.0 Q378.7,150.5 384.7,147.0 L384.7,143.5 Q378.7,139.5 372.7,143.5 Z" fill="#f6f6f6" stroke-width="1.34" />
<path d="M375.3,144.0 L375.3,139.3 Q378.7,136.0 382.09999999999997,139.3 L382.09999999999997,144.0 Q378.7,146.5 375.3,144.0 Z" fill="#f6f6f6" stroke-width="1.22" />
<path d="M375.3,139.8 Q378.7,142.5 382.09999999999997,139.8" fill="none" stroke-width="0.98" />
<path d="M205.4,449 L205.4,483 Q207.4,488 213.4,490.5 Q218.4,493 222.4,492.5 Q227.4,492 228.9,487 L229.9,484 L229.9,473 L231.4,470 L231.4,449 Z" fill="#f6f6f6" stroke-width="1.59" />
<line x1="207.0" y1="454" x2="207.0" y2="482" stroke-width="0.98" />
<ellipse cx="218.4" cy="449" rx="13" ry="6.6" fill="#f6f6f6" stroke-width="1.59" />
<ellipse cx="219.70000000000002" cy="449.6" rx="10" ry="4.9" fill="#f6f6f6" stroke-width="1.10" />
<path d="M209.8,449.5 Q211.1,445.5 216.4,444.8 L214.9,446 Q213.4,450 213.9,453.5 Q211.1,452.5 209.8,449.5 Z" fill="#1c1c1c" stroke-width="0.73" />
<line x1="215.9" y1="445.5" x2="215.9" y2="454" stroke-width="0.98" />
<line x1="218.9" y1="445.5" x2="218.9" y2="454.2" stroke-width="0.85" />
<path d="M224.9,462 L229.4,460.5 L229.4,465.5 L224.9,467 Z" fill="#1c1c1c" stroke-width="0.73" />
<path d="M221.9,470.5 L225.4,470 L229.9,467.8" fill="none" stroke-width="1.10" />
<path d="M222.9,479 L228.4,477 L228.4,486.5 L222.9,488 Z" fill="none" stroke-width="1.34" />
<path d="M224.70000000000002,480.5 L227.20000000000002,479.8 L227.20000000000002,484.5 L224.70000000000002,485.3 Z" fill="none" stroke-width="0.98" />
<line x1="222.9" y1="479" x2="222.9" y2="491.5" stroke-width="1.10" />
<path d="M437.5,443 L437.5,477 Q439.5,482 445.5,484.5 Q450.5,487 454.5,486.5 Q459.5,486 461.0,481 L462.0,478 L462.0,467 L463.5,464 L463.5,443 Z" fill="#f6f6f6" stroke-width="1.59" />
<line x1="439.1" y1="448" x2="439.1" y2="476" stroke-width="0.98" />
<ellipse cx="450.5" cy="443" rx="13" ry="6.6" fill="#f6f6f6" stroke-width="1.59" />
<ellipse cx="451.8" cy="443.6" rx="10" ry="4.9" fill="#f6f6f6" stroke-width="1.10" />
<path d="M441.9,443.5 Q443.2,439.5 448.5,438.8 L447.0,440 Q445.5,444 446.0,447.5 Q443.2,446.5 441.9,443.5 Z" fill="#1c1c1c" stroke-width="0.73" />
<line x1="448.0" y1="439.5" x2="448.0" y2="448" stroke-width="0.98" />
<line x1="451.0" y1="439.5" x2="451.0" y2="448.2" stroke-width="0.85" />
<path d="M457.0,456 L461.5,454.5 L461.5,459.5 L457.0,461 Z" fill="#1c1c1c" stroke-width="0.73" />
<path d="M454.0,464.5 L457.5,464 L462.0,461.8" fill="none" stroke-width="1.10" />
<path d="M455.0,473 L460.5,471 L460.5,480.5 L455.0,482 Z" fill="none" stroke-width="1.34" />
<path d="M456.8,474.5 L459.3,473.8 L459.3,478.5 L456.8,479.3 Z" fill="none" stroke-width="0.98" />
<line x1="455.0" y1="473" x2="455.0" y2="485.5" stroke-width="1.10" />
<path d="M134.7,477 L134.7,511 Q135,514.5 142,514.8 Q149,514.5 149.3,511 L149.3,477 Q149.3,473 147,472 L137,472 Q134.7,473 134.7,477 Z" fill="#f6f6f6" stroke-width="1.46" />
<path d="M134.7,476 Q142,480 149.3,476" fill="none" stroke-width="0.98" />
<line x1="147.5" y1="478" x2="147.5" y2="511" stroke-width="1.95" />
<line x1="136.2" y1="479" x2="136.2" y2="510" stroke-width="0.85" />
<path d="M137.4,468 L137.4,472 Q142,474.5 146.6,472 L146.6,468 Z" fill="#f6f6f6" stroke-width="1.22" />
<path d="M135.6,462 L135.6,467 Q142,471.5 148.4,467 L148.4,462 Z" fill="#f6f6f6" stroke-width="1.46" />
<ellipse cx="142" cy="462" rx="6.4" ry="3.3" fill="#f6f6f6" stroke-width="1.46" />
<ellipse cx="142" cy="462.4" rx="3.8" ry="1.9" fill="#1c1c1c" />
<path d="M345.20000000000005,421 L345.20000000000005,469 Q346.6,472.3 351.6,472.5 Q356.6,472.3 358.0,469 L358.0,421 Z" fill="#f6f6f6" stroke-width="1.46" />
<ellipse cx="351.6" cy="421" rx="6.4" ry="3.5" fill="#f6f6f6" stroke-width="1.46" />
<ellipse cx="351.6" cy="421.3" rx="4.0" ry="2.0" fill="#1c1c1c" />
<line x1="356.20000000000005" y1="425" x2="356.20000000000005" y2="469" stroke-width="1.95" />
<path d="M345.20000000000005,423.5 Q351.6,427.5 358.0,423.5" fill="none" stroke-width="0.98" />
<path d="M561.4,470.0 L561.4,488.6 L567.5,491.0 L586.3,483.0 L608.5,466.7 L608.5,452.6 L586.3,463.1 Z" fill="#f6f6f6" stroke-width="1.46" />
<path d="M563.0,463.1 L563.0,488.7" fill="none" stroke-width="1.16" />
<path d="M564.7,463.1 L564.7,489.3" fill="none" stroke-width="1.16" />
<path d="M566.4,463.1 L566.4,490.0" fill="none" stroke-width="1.16" />
<path d="M568.0,463.1 L568.0,488.8" fill="none" stroke-width="1.16" />
<path d="M569.7,463.1 L569.7,487.8" fill="none" stroke-width="1.16" />
<path d="M571.4,463.1 L571.4,486.8" fill="none" stroke-width="1.16" />
<path d="M573.0,463.1 L573.0,485.9" fill="none" stroke-width="1.16" />
<path d="M574.7,463.1 L574.7,484.9" fill="none" stroke-width="1.16" />
<path d="M576.3,463.1 L576.3,483.9" fill="none" stroke-width="1.16" />
<path d="M578.0,463.1 L578.0,483.0" fill="none" stroke-width="1.16" />
<path d="M579.7,463.1 L579.7,482.0" fill="none" stroke-width="1.16" />
<path d="M581.3,463.1 L581.3,481.0" fill="none" stroke-width="1.16" />
<path d="M583.0,463.1 L583.0,480.0" fill="none" stroke-width="1.16" />
<path d="M584.6,463.1 L584.6,479.1" fill="none" stroke-width="1.16" />
<path d="M586.3,452.6 L586.3,478.1" fill="none" stroke-width="1.16" />
<path d="M588.0,452.6 L588.0,477.1" fill="none" stroke-width="1.16" />
<path d="M589.6,452.6 L589.6,476.2" fill="none" stroke-width="1.16" />
<path d="M591.3,452.6 L591.3,475.2" fill="none" stroke-width="1.16" />
<path d="M593.0,452.6 L593.0,474.2" fill="none" stroke-width="1.16" />
<path d="M594.6,452.6 L594.6,473.2" fill="none" stroke-width="1.16" />
<path d="M596.3,452.6 L596.3,472.3" fill="none" stroke-width="1.16" />
<path d="M597.9,452.6 L597.9,471.3" fill="none" stroke-width="1.16" />
<path d="M599.6,452.6 L599.6,470.3" fill="none" stroke-width="1.16" />
<path d="M601.3,452.6 L601.3,469.3" fill="none" stroke-width="1.16" />
<path d="M602.9,452.6 L602.9,468.4" fill="none" stroke-width="1.16" />
<path d="M604.6,452.6 L604.6,467.4" fill="none" stroke-width="1.16" />
<path d="M606.3,452.6 L606.3,466.4" fill="none" stroke-width="1.16" />
<path d="M607.9,452.6 L607.9,465.5" fill="none" stroke-width="1.16" />
<path d="M535.6,450.6 C533.3,452.4 534.4,460.7 534.8,463.1 C535.2,465.5 538.2,472.9 539.2,474.7 C540.3,476.5 544.2,480.8 545.6,481.4 C547.0,481.9 551.2,480.5 553.1,480.0 C554.9,479.4 561.7,477.0 564.2,476.1 C566.6,475.2 575.8,472.1 577.4,470.8 C579.1,469.5 581.0,465.2 580.8,463.1 C580.6,460.9 577.4,451.0 575.2,449.2 C573.0,447.4 562.6,444.9 558.6,445.1 C554.7,445.2 538.0,448.8 535.6,450.6 Z" fill="#f6f6f6" stroke-width="1.59" />
<path d="M543.7,478.0 C544.6,478.0 551.0,477.7 553.1,477.2 C555.1,476.7 561.8,474.2 564.2,473.3 C566.5,472.4 575.4,468.8 576.6,468.3" fill="none" stroke-width="0.98" />
<path d="M543.7,476.6 C544.6,476.6 551.0,476.3 553.1,475.8 C555.1,475.3 561.8,472.8 564.2,471.9 C566.5,471.1 575.4,467.5 576.6,467.0" fill="none" stroke-width="0.85" />
<path d="M543.7,479.0 C544.6,478.9 551.0,478.6 553.1,478.2 C555.1,477.7 561.8,475.2 564.2,474.3 C566.5,473.4 575.4,469.8 576.6,469.3" fill="none" stroke-width="1.83" />
<path d="M484.2,437.0 C485.4,435.4 493.9,425.3 496.5,423.1 C499.0,420.9 507.0,417.2 509.8,415.3 C512.5,413.4 521.1,405.9 523.8,404.2 C526.5,402.5 534.6,398.9 537.1,398.0 C539.6,397.1 547.1,395.3 548.9,395.3 C550.7,395.4 555.7,393.9 554.8,398.3 C553.9,402.6 542.2,433.7 540.0,438.9 C537.9,444.0 534.1,447.9 532.9,449.9 C531.8,452.0 529.4,457.9 528.2,459.5 C527.0,461.2 522.4,465.2 520.8,466.2 C519.2,467.2 513.5,469.4 512.3,469.6 C511.0,469.7 509.9,469.4 508.3,467.7 C506.6,465.9 498.1,455.0 495.7,452.2 C493.4,449.3 485.8,440.4 484.6,438.9 C483.5,437.3 483.0,438.6 484.2,437.0 Z" fill="#f6f6f6" stroke-width="1.59" />
<path d="M486.6,435.9 L509.8,462.8" fill="none" stroke-width="0.98" />
<path d="M488.3,434.1 L511.7,460.3" fill="none" stroke-width="0.85" />
<path d="M501.6,421.2 C502.1,421.8 504.4,424.7 505.3,425.6 C506.2,426.5 507.5,428.1 508.3,427.8 C509.1,427.6 510.6,424.8 511.2,423.7 C511.8,422.6 512.5,420.2 512.7,419.7" fill="none" stroke-width="0.98" />
<path d="M509.8,415.3 C510.2,415.9 511.0,418.4 512.7,419.7 C514.4,421.0 520.6,423.9 522.3,424.9 C524.0,425.9 524.9,426.8 525.3,427.1" fill="none" stroke-width="1.10" />
<path d="M510.8,428.1 L525.3,436.0" fill="none" stroke-width="1.10" />
<ellipse cx="520.8360413589364" cy="457.7695716395864" rx="13.2" ry="7.2" fill="#f6f6f6" stroke-width="1.59" transform="rotate(-36 520.8360413589364 457.7695716395864)" />
<ellipse cx="520.2451994091581" cy="458.36041358936484" rx="10.0" ry="4.4" fill="#1c1c1c" transform="rotate(-36 520.2451994091581 458.36041358936484)" />
<path d="M590.1,407.2 C591.8,407.8 604.2,412.7 607.1,413.8 C610.0,414.9 617.0,417.6 618.9,418.2 C620.8,418.9 625.2,419.8 626.3,420.5 C627.4,421.1 629.1,424.1 629.5,425.2 C630.0,426.2 630.7,430.3 630.7,431.1 C630.7,431.8 629.8,432.0 629.5,432.7 C629.2,433.3 628.5,436.6 627.8,437.7 C627.0,438.7 623.0,442.0 621.9,443.0 C620.7,444.0 617.1,446.8 615.9,447.7 C614.8,448.6 611.2,451.4 610.0,452.2 C608.9,452.9 605.5,454.7 604.1,455.4 C602.8,456.1 597.9,458.6 596.7,459.5 C595.6,460.5 593.3,463.9 592.3,464.7 C591.3,465.6 587.7,467.9 586.4,468.1 C585.1,468.3 580.9,467.6 579.8,466.9 C578.6,466.3 575.4,463.1 574.6,461.8 C573.8,460.4 571.9,455.2 571.6,453.6 C571.3,452.1 571.6,447.0 571.6,446.2 L577.5,433.7 L577.5,414.5 Z" fill="#f6f6f6" stroke-width="1.59" />
<path d="M571.6,446.5 C571.9,445.3 573.5,442.0 574.3,441.1 C575.1,440.2 578.4,438.0 579.8,437.7 C581.1,437.4 586.4,437.8 587.9,438.1 C589.3,438.4 592.8,441.1 594.1,440.9 C595.4,440.7 600.0,437.1 601.2,436.2 C602.4,435.3 605.3,432.8 605.9,431.5 C606.5,430.2 606.1,424.3 606.8,423.1 C607.5,421.9 611.5,420.0 613.0,419.7 C614.5,419.4 620.3,419.4 621.9,419.9 C623.4,420.3 627.6,423.2 628.5,424.3 C629.4,425.4 630.6,430.2 630.7,431.1 C630.8,431.9 629.8,432.0 629.5,432.7 C629.2,433.3 628.5,436.6 627.8,437.7 C627.0,438.7 623.0,442.0 621.9,443.0 C620.7,444.0 617.1,446.8 615.9,447.7 C614.8,448.6 611.2,451.4 610.0,452.2 C608.9,452.9 605.5,454.7 604.1,455.4 C602.8,456.1 597.9,458.6 596.7,459.5 C595.6,460.5 593.3,463.9 592.3,464.7 C591.3,465.6 587.7,467.9 586.4,468.1 C585.1,468.3 580.9,467.6 579.8,466.9 C578.6,466.3 575.4,463.1 574.6,461.8 C573.8,460.4 571.9,455.2 571.6,453.6 C571.3,452.1 571.4,447.8 571.6,446.5 Z" fill="#f6f6f6" stroke-width="1.59" />
<path d="M562.2,437.5 C562.9,436.6 565.5,434.3 566.9,433.4 C568.4,432.5 574.7,429.1 576.8,428.5 C578.9,427.9 586.0,427.5 587.8,427.2 C589.7,427.0 594.1,426.2 595.2,425.8 C596.3,425.4 598.3,423.2 598.9,423.1 C599.5,422.9 601.2,423.7 601.1,424.3 C601.0,424.9 599.1,428.2 597.9,428.8 C596.7,429.5 590.9,430.9 589.1,431.2 C587.2,431.5 581.0,431.6 579.2,432.2 C577.4,432.7 572.5,435.6 571.2,436.6 C570.0,437.6 567.3,440.5 566.7,441.8 C566.0,443.0 565.3,448.4 564.7,449.2 C564.1,449.9 561.2,449.9 560.8,449.2 C560.4,448.4 560.6,442.9 560.8,441.8 C560.9,440.6 561.6,438.3 562.2,437.5 Z" fill="#1c1c1c" stroke-width="0.98" />
<path d="M592.3,408.6 L614.5,417.2" fill="none" stroke-width="0.98" />
<path d="M596.7,414.5 L610.0,419.3" fill="none" stroke-width="0.98" />
<path d="M590.8,412.3 C591.6,412.9 595.4,415.5 596.7,416.8 C598.1,418.0 599.8,421.1 601.2,421.9 C602.5,422.8 606.0,423.0 606.8,423.1" fill="none" stroke-width="1.10" />
<ellipse cx="583.450516986706" cy="451.4180206794682" rx="8.4" ry="12.2" fill="#1c1c1c" transform="rotate(12 583.450516986706 451.4180206794682)" />
<ellipse cx="614.4697193500739" cy="432.562776957164" rx="8.0" ry="11.4" fill="#1c1c1c" transform="rotate(12 614.4697193500739 432.562776957164)" />
<path d="M525.0,412.8 L524.7,420.5 L526.7,430.1 L534.9,435.2 L534.9,452.2 L541.5,456.9 L547.4,459.5 L554.8,458.8 L560.7,456.9 L562.5,441.8 L562.0,433.7 L562.8,429.3 Z" fill="#f6f6f6" stroke-width="1.46" />
<path d="M534.9,435.2 L534.9,452.2" fill="none" stroke-width="1.46" />
<path d="M547.4,444.0 L547.4,459.5" fill="none" stroke-width="1.22" />
<path d="M549.2,444.8 L549.2,459.2" fill="none" stroke-width="0.85" />
<path d="M560.7,443.3 L560.7,456.9" fill="none" stroke-width="0.98" />
<path d="M558.5,444.0 L558.5,457.8" fill="none" stroke-width="0.73" />
<path d="M530.0,421.2 L532.4,421.9 L534.9,436.0 L533.4,444.1 L530.0,433.7 Z" fill="#1c1c1c" stroke-width="0.73" />
<path d="M526.0,416.8 L526.7,429.3" fill="none" stroke-width="2.20" />
<path d="M525.0,412.8 C525.2,411.7 527.5,409.9 529.0,408.6 C530.5,407.3 537.6,401.5 540.0,399.8 C542.5,398.1 551.3,392.7 553.3,391.6 C555.4,390.6 559.2,389.6 560.7,389.4 C562.2,389.3 566.9,389.5 568.1,390.0 C569.3,390.5 571.4,393.0 573.1,394.2 C574.8,395.3 583.2,400.2 584.9,401.5 C586.6,402.8 589.5,406.0 590.1,407.2 C590.7,408.3 591.4,411.8 591.1,412.8 C590.9,413.7 589.2,415.8 587.9,416.8 C586.5,417.7 579.8,421.4 577.5,422.7 C575.3,423.9 567.3,428.2 565.7,429.3 C564.2,430.4 562.5,432.5 562.0,433.7 C561.5,435.0 562.0,441.2 560.7,441.9 C559.4,442.5 551.5,441.2 548.9,439.9 C546.3,438.7 537.1,431.3 534.9,429.3 C532.7,427.3 527.7,421.4 526.7,419.7 C525.8,418.1 524.8,413.9 525.0,412.8 Z" fill="#f6f6f6" stroke-width="1.59" />
<ellipse cx="558.0615384615385" cy="415.0615384615385" rx="18" ry="10.8" fill="#f6f6f6" stroke-width="1.59" />
<ellipse cx="558.3615384615384" cy="415.0615384615385" rx="14.2" ry="8.0" fill="#f6f6f6" stroke-width="1.83" />
<ellipse cx="558.5615384615385" cy="415.0615384615385" rx="12.2" ry="6.4" fill="#f6f6f6" stroke-width="1.10" />
<path d="M546.6,415.3 C546.5,414.2 547.5,411.2 548.5,410.4 C549.4,409.6 553.7,408.5 554.6,408.3 C555.5,408.1 556.5,408.4 556.5,408.8 C556.4,409.2 554.4,410.7 554.0,411.6 C553.6,412.5 553.1,415.5 553.4,416.5 C553.7,417.5 555.5,419.7 556.5,420.2 C557.5,420.8 560.8,421.5 562.0,421.5 C563.2,421.5 566.8,420.1 566.9,420.2 C567.1,420.3 564.5,422.1 563.2,422.3 C561.9,422.6 557.4,422.6 555.8,422.3 C554.3,422.1 550.8,421.0 549.7,420.2 C548.6,419.4 546.8,416.5 546.6,415.3 Z" fill="#1c1c1c" stroke-width="0.61" />
<path d="M556.5,408.8 C557.2,408.7 560.4,407.9 562.0,407.9 C563.6,408.0 567.3,409.0 568.2,409.2" fill="none" stroke-width="1.95" />
<ellipse cx="560.7692307692307" cy="418.38461538461536" rx="1.3" ry="1.0" fill="none" stroke-width="0.98" />
<path d="M551.5,409.8 L551.9,413.5" fill="none" stroke-width="0.85" stroke="#f6f6f6"/>
<ellipse cx="562.93353028065" cy="396.8168389955687" rx="5.2" ry="3.2" fill="#f6f6f6" stroke-width="1.22" />
<ellipse cx="562.93353028065" cy="397.1122599704579" rx="3.2" ry="1.7" fill="#1c1c1c" />
<ellipse cx="579.314623338257" cy="406.4180206794682" rx="4.2" ry="2.5" fill="#f6f6f6" stroke-width="1.22" transform="rotate(-5 579.314623338257 406.4180206794682)" />
<ellipse cx="541.5155096011817" cy="428.57459379615955" rx="4.2" ry="2.5" fill="#f6f6f6" stroke-width="1.22" transform="rotate(-5 541.5155096011817 428.57459379615955)" />
<ellipse cx="532.9483013293944" cy="413.8035450516987" rx="5.6" ry="3.5" fill="#f6f6f6" stroke-width="1.34" />
<ellipse cx="532.9483013293944" cy="414.0989660265879" rx="3.6" ry="2.0" fill="#1c1c1c" />
<path d="M549.5048744460856,431.9719350073855 L549.5048744460856,439.9719350073855 Q555.1048744460857,443.9719350073855 560.7048744460857,439.9719350073855 L560.7048744460857,431.9719350073855 Z" fill="#f6f6f6" stroke-width="1.34" />
<ellipse cx="555.1048744460857" cy="431.9719350073855" rx="5.6" ry="3.6" fill="#f6f6f6" stroke-width="1.34" />
<ellipse cx="555.1048744460857" cy="432.27193500738554" rx="3.4" ry="2.0" fill="#1c1c1c" />
<path d="M578.3890694239292,416.7577548005909 L578.3890694239292,424.7577548005909 Q584.1890694239291,428.7577548005909 589.9890694239291,424.7577548005909 L589.9890694239291,416.7577548005909 Z" fill="#f6f6f6" stroke-width="1.34" />
<ellipse cx="584.1890694239291" cy="416.7577548005909" rx="5.8" ry="3.6" fill="#f6f6f6" stroke-width="1.34" />
<ellipse cx="584.1890694239291" cy="417.0577548005909" rx="3.4" ry="2.0" fill="#1c1c1c" />
<path d="M586.2,510.9 C586.2,514.7 586.4,533.0 586.5,539.3 C586.6,545.5 586.4,554.1 586.9,557.6 C587.5,561.1 589.3,564.2 590.8,565.6 C592.2,567.0 596.0,568.4 597.6,568.4 C599.3,568.3 602.0,566.3 603.0,565.3 C604.0,564.3 605.0,561.3 605.3,560.7" fill="none" stroke-width="1.34" />
<path d="M590.8,509.4 C590.8,513.4 591.0,533.0 591.1,539.3 C591.1,545.5 591.0,553.1 591.4,556.1 C591.7,559.1 592.7,560.9 593.5,561.9 C594.3,562.9 596.6,563.8 597.6,563.8 C598.7,563.8 600.6,562.4 601.2,561.9 C601.8,561.4 602.1,560.2 602.2,559.9" fill="none" stroke-width="1.34" />
<path d="M590.4,522.4 L591.7,523.3" fill="none" stroke-width="0.98" />
<ellipse cx="603.3108728943339" cy="557.1730474732007" rx="4.2" ry="3.8" fill="#f6f6f6" stroke-width="1.46" />
<path d="M599.6,556.4 C599.9,556.1 600.7,554.2 601.5,553.8 C602.2,553.4 604.5,553.1 605.3,553.3 C606.1,553.6 607.0,555.5 607.3,555.8" fill="none" stroke-width="2.20" />
<ellipse cx="602.6983154670751" cy="554.87595712098" rx="1.6" ry="1.2" fill="#1c1c1c" />
<path d="M562.4,507.1 C561.2,507.5 562.4,513.2 562.9,514.0 C563.3,514.8 566.7,516.9 567.8,517.1 C568.8,517.2 574.2,516.5 575.4,516.3 C576.7,516.0 579.5,515.6 582.3,514.0 C585.1,512.4 606.7,498.9 609.1,497.1 C611.5,495.4 610.8,494.1 611.0,493.3 C611.1,492.5 611.6,486.9 610.7,487.2 C609.7,487.4 602.7,494.6 599.9,496.4 C597.1,498.2 580.1,507.7 577.0,508.6 C573.8,509.5 563.6,506.6 562.4,507.1 Z" fill="#f6f6f6" stroke-width="1.59" />
<path d="M580.3,508.6 L580.3,514.0" fill="none" stroke-width="0.85" />
<path d="M581.4,508.2 L581.4,513.4" fill="none" stroke-width="0.85" />
<path d="M582.5,507.7 L582.5,512.8" fill="none" stroke-width="0.85" />
<path d="M583.6,507.2 L583.6,512.2" fill="none" stroke-width="0.85" />
<path d="M584.6,506.8 L584.6,511.5" fill="none" stroke-width="0.85" />
<path d="M585.7,506.3 L585.7,510.9" fill="none" stroke-width="0.85" />
<path d="M586.8,505.9 L586.8,510.3" fill="none" stroke-width="0.85" />
<path d="M562.4,507.1 C562.2,506.3 563.3,504.0 564.0,503.3 C564.6,502.6 567.4,501.4 569.3,500.2 C571.2,499.1 580.3,493.5 583.1,491.8 C585.9,490.1 594.9,484.4 596.9,483.4 C598.9,482.3 601.9,481.7 603.0,481.7 C604.2,481.7 607.6,482.7 608.4,483.2 C609.1,483.8 610.7,486.3 610.7,487.2 C610.7,488.0 609.9,490.5 608.4,491.8 C606.8,493.0 598.0,498.1 595.3,499.7 C592.7,501.4 583.7,506.7 581.6,507.9 C579.4,509.0 575.4,510.6 573.9,510.9 C572.4,511.2 567.4,511.3 566.3,510.9 C565.1,510.5 562.7,507.9 562.4,507.1 Z" fill="#f6f6f6" stroke-width="1.59" />
<ellipse cx="570.8453292496172" cy="504.0336906584992" rx="3.6" ry="2.3" fill="#f6f6f6" stroke-width="1.22" transform="rotate(-15 570.8453292496172 504.0336906584992)" />
<path d="M567.8,503.3 C567.9,502.9 569.3,502.3 570.1,502.2 C570.9,502.1 573.3,502.3 573.6,502.5 C573.9,502.7 572.7,503.7 572.1,504.0 C571.5,504.3 569.6,504.9 569.0,504.8 C568.4,504.7 567.6,503.6 567.8,503.3 Z" fill="#1c1c1c" stroke-width="0.61" />
<ellipse cx="587.9969372128637" cy="493.7733537519142" rx="2.4" ry="1.7" fill="#1c1c1c" transform="rotate(-15 587.9969372128637 493.7733537519142)" />
<ellipse cx="603.0045941807044" cy="485.6569678407351" rx="4.0" ry="2.3" fill="#f6f6f6" stroke-width="1.22" transform="rotate(-10 603.0045941807044 485.6569678407351)" />
<path d="M599.3,485.7 C599.6,485.5 600.7,484.3 601.5,484.1 C602.3,483.9 604.8,484.1 605.3,484.1" fill="none" stroke-width="1.83" />
<ellipse cx="602.2" cy="511" rx="5.3" ry="4.0" fill="#f6f6f6" stroke-width="1.59" />
<ellipse cx="602.5" cy="510.8" rx="2.65" ry="1.92" fill="#f6f6f6" stroke-width="1.22" />
<path d="M601.7,513.0 L603.7,515.3" fill="none" stroke-width="1.95" stroke="#f6f6f6"/>
<path d="M601.0,512.8 L602.0,515.0" fill="none" stroke-width="0.98" />
<ellipse cx="583.6" cy="390" rx="5.2" ry="3.9" fill="#f6f6f6" stroke-width="1.59" />
<ellipse cx="583.9" cy="389.8" rx="2.6" ry="1.8719999999999999" fill="#f6f6f6" stroke-width="1.22" />
<path d="M583.1,391.95 L585.1,394.2" fill="none" stroke-width="1.95" stroke="#f6f6f6"/>
<path d="M582.4,391.755 L583.4,393.9" fill="none" stroke-width="0.98" />
<path d="M599.2,537 L599.2,521.5 Q599.2,518.5 602.5,518.5 Q605.8,518.5 605.8,521.5 L605.8,537" fill="#f6f6f6" stroke-width="1.34" />
<path d="M599.2,522.0 L605.8,521.0" fill="none" stroke-width="0.98" />
<path d="M599.2,524.2 L605.8,523.2" fill="none" stroke-width="0.98" />
<path d="M599.2,526.4 L605.8,525.4" fill="none" stroke-width="0.98" />
<path d="M599.2,528.6 L605.8,527.6" fill="none" stroke-width="0.98" />
<path d="M599.2,530.8 L605.8,529.8" fill="none" stroke-width="0.98" />
<path d="M599.2,533.0 L605.8,532.0" fill="none" stroke-width="0.98" />
<path d="M599.2,535.2 L605.8,534.2" fill="none" stroke-width="0.98" />
<line x1="604.5" y1="520" x2="604.5" y2="536" stroke-width="1.46" />
<path d="M596.5,538 L596.5,543 L600.0,545.6 L606.0,545.2 L608.5,542.5 L608.5,537.5 Q602.5,534.5 596.5,538 Z" fill="#f6f6f6" stroke-width="1.46" />
<path d="M596.5,538 Q602.5,542 608.5,537.5" fill="none" stroke-width="1.10" />
<line x1="600.0" y1="540.5" x2="600.0" y2="545.6" stroke-width="0.98" />
<line x1="606.0" y1="540" x2="606.0" y2="545.2" stroke-width="0.98" />
<ellipse cx="558" cy="365.59999999999997" rx="18.6" ry="12.0" fill="#f6f6f6" stroke-width="1.46" transform="rotate(-3 558 365.59999999999997)" />
<ellipse cx="558" cy="364.4" rx="18.6" ry="12.0" fill="#f6f6f6" stroke-width="1.59" transform="rotate(-3 558 364.4)" />
<ellipse cx="558.3" cy="364.09999999999997" rx="15.0" ry="9.0" fill="#f6f6f6" stroke-width="1.46" transform="rotate(-3 558.3 364.09999999999997)" />
<path d="M544,366.9 Q553,374.4 566,371.4" fill="none" stroke-width="0.85" />
<path d="M581.8000000000001,355 L581.8000000000001,377 Q585.2,380 588.6,377 L588.6,355 Z" fill="#f6f6f6" stroke-width="1.34" />
<path d="M581.8000000000001,365.0 L588.6,366.0" fill="none" stroke-width="0.98" />
<path d="M581.8000000000001,367.2 L588.6,368.2" fill="none" stroke-width="0.98" />
<path d="M581.8000000000001,369.4 L588.6,370.4" fill="none" stroke-width="0.98" />
<path d="M581.8000000000001,371.6 L588.6,372.6" fill="none" stroke-width="0.98" />
<path d="M581.8000000000001,373.8 L588.6,374.8" fill="none" stroke-width="0.98" />
<path d="M581.8000000000001,376.0 L588.6,377.0" fill="none" stroke-width="0.98" />
<line x1="587.2" y1="357" x2="587.2" y2="377" stroke-width="1.46" />
<path d="M578.7,350.5 L578.7,354 Q585.2,358.5 591.7,354 L591.7,350.5 Z" fill="#f6f6f6" stroke-width="1.46" />
<ellipse cx="585.2" cy="350.3" rx="6.5" ry="3.0" fill="#f6f6f6" stroke-width="1.46" />
</g><g fill="none">
<text x="176.4" y="305" font-size="41" textLength="295.8" lengthAdjust="spacingAndGlyphs" style="font-style:normal;fill:none;stroke:#858585;stroke-width:1.0;mix-blend-mode:darken">AUTOPITER.RU</text>
</g>
</svg>
</body></html>
